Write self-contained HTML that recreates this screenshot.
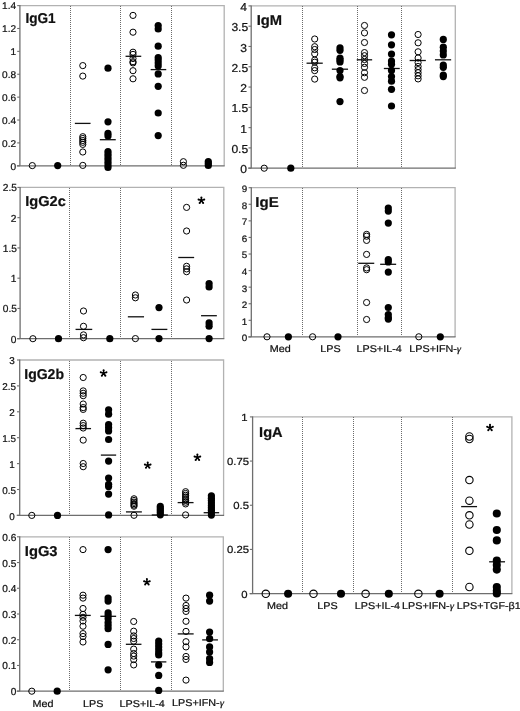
<!DOCTYPE html>
<html><head><meta charset="utf-8"><style>
html,body{margin:0;padding:0;background:#fff;}
body{width:520px;height:711px;overflow:hidden;}
svg{display:block;filter:grayscale(1);}
text{font-family:"Liberation Sans",sans-serif;fill:#111;text-rendering:geometricPrecision;stroke:#111;stroke-width:0.22px;}
</style></head><body>
<svg width="520" height="711" viewBox="0 0 520 711">
<rect width="520" height="711" fill="#fff"/>
<path d="M19.9 5.6H224.2V165.8" fill="none" stroke="#b2b2b2" stroke-width="1.3"/>
<path d="M70 6h1v1h-1zM70 8h1v1h-1zM70 10h1v1h-1zM70 12h1v1h-1zM70 14h1v1h-1zM70 16h1v1h-1zM70 18h1v1h-1zM70 20h1v1h-1zM70 22h1v1h-1zM70 24h1v1h-1zM70 26h1v1h-1zM70 28h1v1h-1zM70 30h1v1h-1zM70 32h1v1h-1zM70 34h1v1h-1zM70 36h1v1h-1zM70 38h1v1h-1zM70 40h1v1h-1zM70 42h1v1h-1zM70 44h1v1h-1zM70 46h1v1h-1zM70 48h1v1h-1zM70 50h1v1h-1zM70 52h1v1h-1zM70 54h1v1h-1zM70 56h1v1h-1zM70 58h1v1h-1zM70 60h1v1h-1zM70 62h1v1h-1zM70 64h1v1h-1zM70 66h1v1h-1zM70 68h1v1h-1zM70 70h1v1h-1zM70 72h1v1h-1zM70 74h1v1h-1zM70 76h1v1h-1zM70 78h1v1h-1zM70 80h1v1h-1zM70 82h1v1h-1zM70 84h1v1h-1zM70 86h1v1h-1zM70 88h1v1h-1zM70 90h1v1h-1zM70 92h1v1h-1zM70 94h1v1h-1zM70 96h1v1h-1zM70 98h1v1h-1zM70 100h1v1h-1zM70 102h1v1h-1zM70 104h1v1h-1zM70 106h1v1h-1zM70 108h1v1h-1zM70 110h1v1h-1zM70 112h1v1h-1zM70 114h1v1h-1zM70 116h1v1h-1zM70 118h1v1h-1zM70 120h1v1h-1zM70 122h1v1h-1zM70 124h1v1h-1zM70 126h1v1h-1zM70 128h1v1h-1zM70 130h1v1h-1zM70 132h1v1h-1zM70 134h1v1h-1zM70 136h1v1h-1zM70 138h1v1h-1zM70 140h1v1h-1zM70 142h1v1h-1zM70 144h1v1h-1zM70 146h1v1h-1zM70 148h1v1h-1zM70 150h1v1h-1zM70 152h1v1h-1zM70 154h1v1h-1zM70 156h1v1h-1zM70 158h1v1h-1zM70 160h1v1h-1zM70 162h1v1h-1zM70 164h1v1h-1z" fill="#6a6a6a" shape-rendering="crispEdges"/>
<path d="M120 6h1v1h-1zM120 8h1v1h-1zM120 10h1v1h-1zM120 12h1v1h-1zM120 14h1v1h-1zM120 16h1v1h-1zM120 18h1v1h-1zM120 20h1v1h-1zM120 22h1v1h-1zM120 24h1v1h-1zM120 26h1v1h-1zM120 28h1v1h-1zM120 30h1v1h-1zM120 32h1v1h-1zM120 34h1v1h-1zM120 36h1v1h-1zM120 38h1v1h-1zM120 40h1v1h-1zM120 42h1v1h-1zM120 44h1v1h-1zM120 46h1v1h-1zM120 48h1v1h-1zM120 50h1v1h-1zM120 52h1v1h-1zM120 54h1v1h-1zM120 56h1v1h-1zM120 58h1v1h-1zM120 60h1v1h-1zM120 62h1v1h-1zM120 64h1v1h-1zM120 66h1v1h-1zM120 68h1v1h-1zM120 70h1v1h-1zM120 72h1v1h-1zM120 74h1v1h-1zM120 76h1v1h-1zM120 78h1v1h-1zM120 80h1v1h-1zM120 82h1v1h-1zM120 84h1v1h-1zM120 86h1v1h-1zM120 88h1v1h-1zM120 90h1v1h-1zM120 92h1v1h-1zM120 94h1v1h-1zM120 96h1v1h-1zM120 98h1v1h-1zM120 100h1v1h-1zM120 102h1v1h-1zM120 104h1v1h-1zM120 106h1v1h-1zM120 108h1v1h-1zM120 110h1v1h-1zM120 112h1v1h-1zM120 114h1v1h-1zM120 116h1v1h-1zM120 118h1v1h-1zM120 120h1v1h-1zM120 122h1v1h-1zM120 124h1v1h-1zM120 126h1v1h-1zM120 128h1v1h-1zM120 130h1v1h-1zM120 132h1v1h-1zM120 134h1v1h-1zM120 136h1v1h-1zM120 138h1v1h-1zM120 140h1v1h-1zM120 142h1v1h-1zM120 144h1v1h-1zM120 146h1v1h-1zM120 148h1v1h-1zM120 150h1v1h-1zM120 152h1v1h-1zM120 154h1v1h-1zM120 156h1v1h-1zM120 158h1v1h-1zM120 160h1v1h-1zM120 162h1v1h-1zM120 164h1v1h-1z" fill="#6a6a6a" shape-rendering="crispEdges"/>
<path d="M171 6h1v1h-1zM171 8h1v1h-1zM171 10h1v1h-1zM171 12h1v1h-1zM171 14h1v1h-1zM171 16h1v1h-1zM171 18h1v1h-1zM171 20h1v1h-1zM171 22h1v1h-1zM171 24h1v1h-1zM171 26h1v1h-1zM171 28h1v1h-1zM171 30h1v1h-1zM171 32h1v1h-1zM171 34h1v1h-1zM171 36h1v1h-1zM171 38h1v1h-1zM171 40h1v1h-1zM171 42h1v1h-1zM171 44h1v1h-1zM171 46h1v1h-1zM171 48h1v1h-1zM171 50h1v1h-1zM171 52h1v1h-1zM171 54h1v1h-1zM171 56h1v1h-1zM171 58h1v1h-1zM171 60h1v1h-1zM171 62h1v1h-1zM171 64h1v1h-1zM171 66h1v1h-1zM171 68h1v1h-1zM171 70h1v1h-1zM171 72h1v1h-1zM171 74h1v1h-1zM171 76h1v1h-1zM171 78h1v1h-1zM171 80h1v1h-1zM171 82h1v1h-1zM171 84h1v1h-1zM171 86h1v1h-1zM171 88h1v1h-1zM171 90h1v1h-1zM171 92h1v1h-1zM171 94h1v1h-1zM171 96h1v1h-1zM171 98h1v1h-1zM171 100h1v1h-1zM171 102h1v1h-1zM171 104h1v1h-1zM171 106h1v1h-1zM171 108h1v1h-1zM171 110h1v1h-1zM171 112h1v1h-1zM171 114h1v1h-1zM171 116h1v1h-1zM171 118h1v1h-1zM171 120h1v1h-1zM171 122h1v1h-1zM171 124h1v1h-1zM171 126h1v1h-1zM171 128h1v1h-1zM171 130h1v1h-1zM171 132h1v1h-1zM171 134h1v1h-1zM171 136h1v1h-1zM171 138h1v1h-1zM171 140h1v1h-1zM171 142h1v1h-1zM171 144h1v1h-1zM171 146h1v1h-1zM171 148h1v1h-1zM171 150h1v1h-1zM171 152h1v1h-1zM171 154h1v1h-1zM171 156h1v1h-1zM171 158h1v1h-1zM171 160h1v1h-1zM171 162h1v1h-1zM171 164h1v1h-1z" fill="#6a6a6a" shape-rendering="crispEdges"/>
<line x1="16.9" y1="165.8" x2="224.7" y2="165.8" stroke="#6e6e6e" stroke-width="1.3"/>
<line x1="19.9" y1="5.1" x2="19.9" y2="165.8" stroke="#6e6e6e" stroke-width="1.3"/>
<line x1="17.2" y1="165.80" x2="19.9" y2="165.80" stroke="#6e6e6e" stroke-width="1.1"/>
<text transform="translate(16.10,169.67) scale(1.03,1)" font-size="9.8" text-anchor="end">0</text>
<line x1="17.2" y1="142.91" x2="19.9" y2="142.91" stroke="#6e6e6e" stroke-width="1.1"/>
<text transform="translate(16.10,146.79) scale(1.03,1)" font-size="9.8" text-anchor="end">0.2</text>
<line x1="17.2" y1="120.03" x2="19.9" y2="120.03" stroke="#6e6e6e" stroke-width="1.1"/>
<text transform="translate(16.10,123.90) scale(1.03,1)" font-size="9.8" text-anchor="end">0.4</text>
<line x1="17.2" y1="97.14" x2="19.9" y2="97.14" stroke="#6e6e6e" stroke-width="1.1"/>
<text transform="translate(16.10,101.01) scale(1.03,1)" font-size="9.8" text-anchor="end">0.6</text>
<line x1="17.2" y1="74.26" x2="19.9" y2="74.26" stroke="#6e6e6e" stroke-width="1.1"/>
<text transform="translate(16.10,78.13) scale(1.03,1)" font-size="9.8" text-anchor="end">0.8</text>
<line x1="17.2" y1="51.37" x2="19.9" y2="51.37" stroke="#6e6e6e" stroke-width="1.1"/>
<text transform="translate(16.10,55.24) scale(1.03,1)" font-size="9.8" text-anchor="end">1</text>
<line x1="17.2" y1="28.49" x2="19.9" y2="28.49" stroke="#6e6e6e" stroke-width="1.1"/>
<text transform="translate(16.10,32.36) scale(1.03,1)" font-size="9.8" text-anchor="end">1.2</text>
<line x1="17.2" y1="5.60" x2="19.9" y2="5.60" stroke="#6e6e6e" stroke-width="1.1"/>
<text transform="translate(16.10,9.47) scale(1.03,1)" font-size="9.8" text-anchor="end">1.4</text>
<text transform="translate(25.39,23.4) scale(0.95,1)" font-size="14.3" font-weight="bold">IgG1</text>
<line x1="74.85" y1="123.4" x2="90.55" y2="123.4" stroke="#111" stroke-width="1.3"/>
<line x1="99.85" y1="139.7" x2="115.75" y2="139.7" stroke="#111" stroke-width="1.3"/>
<line x1="125.55" y1="56.3" x2="141.25" y2="56.3" stroke="#111" stroke-width="1.3"/>
<line x1="150.65" y1="69.6" x2="166.25" y2="69.6" stroke="#111" stroke-width="1.3"/>
<circle cx="32.3" cy="165.6" r="3.1" fill="none" stroke="#000" stroke-width="1.0"/>
<circle cx="57.7" cy="165.6" r="3.6" fill="#000"/>
<circle cx="82.8" cy="65.6" r="3.1" fill="none" stroke="#000" stroke-width="1.0"/>
<circle cx="82.8" cy="76.1" r="3.1" fill="none" stroke="#000" stroke-width="1.0"/>
<circle cx="82.8" cy="136.7" r="3.1" fill="none" stroke="#000" stroke-width="1.0"/>
<circle cx="82.8" cy="138.5" r="3.1" fill="none" stroke="#000" stroke-width="1.0"/>
<circle cx="82.8" cy="140.5" r="3.1" fill="none" stroke="#000" stroke-width="1.0"/>
<circle cx="82.8" cy="142.3" r="3.1" fill="none" stroke="#000" stroke-width="1.0"/>
<circle cx="82.8" cy="144.4" r="3.1" fill="none" stroke="#000" stroke-width="1.0"/>
<circle cx="82.8" cy="152" r="3.1" fill="none" stroke="#000" stroke-width="1.0"/>
<circle cx="82.8" cy="165.4" r="3.1" fill="none" stroke="#000" stroke-width="1.0"/>
<circle cx="108" cy="68.2" r="3.6" fill="#000"/>
<circle cx="108" cy="121.8" r="3.6" fill="#000"/>
<circle cx="108" cy="133.4" r="3.6" fill="#000"/>
<circle cx="108" cy="135.9" r="3.6" fill="#000"/>
<circle cx="108" cy="151.5" r="3.6" fill="#000"/>
<circle cx="108" cy="154.2" r="3.6" fill="#000"/>
<circle cx="108" cy="156.9" r="3.6" fill="#000"/>
<circle cx="108" cy="159.6" r="3.6" fill="#000"/>
<circle cx="108" cy="162.3" r="3.6" fill="#000"/>
<circle cx="108" cy="165" r="3.6" fill="#000"/>
<circle cx="108" cy="167.5" r="3.6" fill="#000"/>
<circle cx="133" cy="15.4" r="3.1" fill="none" stroke="#000" stroke-width="1.0"/>
<circle cx="133" cy="32.2" r="3.1" fill="none" stroke="#000" stroke-width="1.0"/>
<circle cx="133" cy="52.2" r="3.1" fill="none" stroke="#000" stroke-width="1.0"/>
<circle cx="133" cy="54.4" r="3.1" fill="none" stroke="#000" stroke-width="1.0"/>
<circle cx="133" cy="58.5" r="3.1" fill="none" stroke="#000" stroke-width="1.0"/>
<circle cx="133" cy="61.7" r="3.1" fill="none" stroke="#000" stroke-width="1.0"/>
<circle cx="133" cy="62.9" r="3.1" fill="none" stroke="#000" stroke-width="1.0"/>
<circle cx="133" cy="70.7" r="3.1" fill="none" stroke="#000" stroke-width="1.0"/>
<circle cx="133" cy="78.8" r="3.1" fill="none" stroke="#000" stroke-width="1.0"/>
<circle cx="158.2" cy="25.5" r="3.6" fill="#000"/>
<circle cx="158.2" cy="29" r="3.6" fill="#000"/>
<circle cx="158.2" cy="46.2" r="3.6" fill="#000"/>
<circle cx="158.2" cy="57.5" r="3.6" fill="#000"/>
<circle cx="158.2" cy="60" r="3.6" fill="#000"/>
<circle cx="158.2" cy="63" r="3.6" fill="#000"/>
<circle cx="158.2" cy="66" r="3.6" fill="#000"/>
<circle cx="158.2" cy="73.9" r="3.6" fill="#000"/>
<circle cx="158.2" cy="86.3" r="3.6" fill="#000"/>
<circle cx="158.2" cy="113" r="3.6" fill="#000"/>
<circle cx="158.2" cy="135.6" r="3.6" fill="#000"/>
<circle cx="183.4" cy="161.7" r="3.1" fill="none" stroke="#000" stroke-width="1.0"/>
<circle cx="183.4" cy="165.3" r="3.1" fill="none" stroke="#000" stroke-width="1.0"/>
<circle cx="208.3" cy="161.5" r="3.6" fill="#000"/>
<circle cx="208.3" cy="163.5" r="3.6" fill="#000"/>
<circle cx="208.3" cy="165.5" r="3.6" fill="#000"/>
<path d="M20.1 187.4H223.8V338.7" fill="none" stroke="#b2b2b2" stroke-width="1.3"/>
<path d="M69 188h1v1h-1zM69 190h1v1h-1zM69 192h1v1h-1zM69 194h1v1h-1zM69 196h1v1h-1zM69 198h1v1h-1zM69 200h1v1h-1zM69 202h1v1h-1zM69 204h1v1h-1zM69 206h1v1h-1zM69 208h1v1h-1zM69 210h1v1h-1zM69 212h1v1h-1zM69 214h1v1h-1zM69 216h1v1h-1zM69 218h1v1h-1zM69 220h1v1h-1zM69 222h1v1h-1zM69 224h1v1h-1zM69 226h1v1h-1zM69 228h1v1h-1zM69 230h1v1h-1zM69 232h1v1h-1zM69 234h1v1h-1zM69 236h1v1h-1zM69 238h1v1h-1zM69 240h1v1h-1zM69 242h1v1h-1zM69 244h1v1h-1zM69 246h1v1h-1zM69 248h1v1h-1zM69 250h1v1h-1zM69 252h1v1h-1zM69 254h1v1h-1zM69 256h1v1h-1zM69 258h1v1h-1zM69 260h1v1h-1zM69 262h1v1h-1zM69 264h1v1h-1zM69 266h1v1h-1zM69 268h1v1h-1zM69 270h1v1h-1zM69 272h1v1h-1zM69 274h1v1h-1zM69 276h1v1h-1zM69 278h1v1h-1zM69 280h1v1h-1zM69 282h1v1h-1zM69 284h1v1h-1zM69 286h1v1h-1zM69 288h1v1h-1zM69 290h1v1h-1zM69 292h1v1h-1zM69 294h1v1h-1zM69 296h1v1h-1zM69 298h1v1h-1zM69 300h1v1h-1zM69 302h1v1h-1zM69 304h1v1h-1zM69 306h1v1h-1zM69 308h1v1h-1zM69 310h1v1h-1zM69 312h1v1h-1zM69 314h1v1h-1zM69 316h1v1h-1zM69 318h1v1h-1zM69 320h1v1h-1zM69 322h1v1h-1zM69 324h1v1h-1zM69 326h1v1h-1zM69 328h1v1h-1zM69 330h1v1h-1zM69 332h1v1h-1zM69 334h1v1h-1zM69 336h1v1h-1z" fill="#6a6a6a" shape-rendering="crispEdges"/>
<path d="M120 188h1v1h-1zM120 190h1v1h-1zM120 192h1v1h-1zM120 194h1v1h-1zM120 196h1v1h-1zM120 198h1v1h-1zM120 200h1v1h-1zM120 202h1v1h-1zM120 204h1v1h-1zM120 206h1v1h-1zM120 208h1v1h-1zM120 210h1v1h-1zM120 212h1v1h-1zM120 214h1v1h-1zM120 216h1v1h-1zM120 218h1v1h-1zM120 220h1v1h-1zM120 222h1v1h-1zM120 224h1v1h-1zM120 226h1v1h-1zM120 228h1v1h-1zM120 230h1v1h-1zM120 232h1v1h-1zM120 234h1v1h-1zM120 236h1v1h-1zM120 238h1v1h-1zM120 240h1v1h-1zM120 242h1v1h-1zM120 244h1v1h-1zM120 246h1v1h-1zM120 248h1v1h-1zM120 250h1v1h-1zM120 252h1v1h-1zM120 254h1v1h-1zM120 256h1v1h-1zM120 258h1v1h-1zM120 260h1v1h-1zM120 262h1v1h-1zM120 264h1v1h-1zM120 266h1v1h-1zM120 268h1v1h-1zM120 270h1v1h-1zM120 272h1v1h-1zM120 274h1v1h-1zM120 276h1v1h-1zM120 278h1v1h-1zM120 280h1v1h-1zM120 282h1v1h-1zM120 284h1v1h-1zM120 286h1v1h-1zM120 288h1v1h-1zM120 290h1v1h-1zM120 292h1v1h-1zM120 294h1v1h-1zM120 296h1v1h-1zM120 298h1v1h-1zM120 300h1v1h-1zM120 302h1v1h-1zM120 304h1v1h-1zM120 306h1v1h-1zM120 308h1v1h-1zM120 310h1v1h-1zM120 312h1v1h-1zM120 314h1v1h-1zM120 316h1v1h-1zM120 318h1v1h-1zM120 320h1v1h-1zM120 322h1v1h-1zM120 324h1v1h-1zM120 326h1v1h-1zM120 328h1v1h-1zM120 330h1v1h-1zM120 332h1v1h-1zM120 334h1v1h-1zM120 336h1v1h-1z" fill="#6a6a6a" shape-rendering="crispEdges"/>
<path d="M171 188h1v1h-1zM171 190h1v1h-1zM171 192h1v1h-1zM171 194h1v1h-1zM171 196h1v1h-1zM171 198h1v1h-1zM171 200h1v1h-1zM171 202h1v1h-1zM171 204h1v1h-1zM171 206h1v1h-1zM171 208h1v1h-1zM171 210h1v1h-1zM171 212h1v1h-1zM171 214h1v1h-1zM171 216h1v1h-1zM171 218h1v1h-1zM171 220h1v1h-1zM171 222h1v1h-1zM171 224h1v1h-1zM171 226h1v1h-1zM171 228h1v1h-1zM171 230h1v1h-1zM171 232h1v1h-1zM171 234h1v1h-1zM171 236h1v1h-1zM171 238h1v1h-1zM171 240h1v1h-1zM171 242h1v1h-1zM171 244h1v1h-1zM171 246h1v1h-1zM171 248h1v1h-1zM171 250h1v1h-1zM171 252h1v1h-1zM171 254h1v1h-1zM171 256h1v1h-1zM171 258h1v1h-1zM171 260h1v1h-1zM171 262h1v1h-1zM171 264h1v1h-1zM171 266h1v1h-1zM171 268h1v1h-1zM171 270h1v1h-1zM171 272h1v1h-1zM171 274h1v1h-1zM171 276h1v1h-1zM171 278h1v1h-1zM171 280h1v1h-1zM171 282h1v1h-1zM171 284h1v1h-1zM171 286h1v1h-1zM171 288h1v1h-1zM171 290h1v1h-1zM171 292h1v1h-1zM171 294h1v1h-1zM171 296h1v1h-1zM171 298h1v1h-1zM171 300h1v1h-1zM171 302h1v1h-1zM171 304h1v1h-1zM171 306h1v1h-1zM171 308h1v1h-1zM171 310h1v1h-1zM171 312h1v1h-1zM171 314h1v1h-1zM171 316h1v1h-1zM171 318h1v1h-1zM171 320h1v1h-1zM171 322h1v1h-1zM171 324h1v1h-1zM171 326h1v1h-1zM171 328h1v1h-1zM171 330h1v1h-1zM171 332h1v1h-1zM171 334h1v1h-1zM171 336h1v1h-1z" fill="#6a6a6a" shape-rendering="crispEdges"/>
<line x1="17.1" y1="338.7" x2="224.3" y2="338.7" stroke="#6e6e6e" stroke-width="1.3"/>
<line x1="20.1" y1="186.9" x2="20.1" y2="338.7" stroke="#6e6e6e" stroke-width="1.3"/>
<line x1="17.400000000000002" y1="338.70" x2="20.1" y2="338.70" stroke="#6e6e6e" stroke-width="1.1"/>
<text transform="translate(16.40,342.71) scale(1.0,1)" font-size="10.2" text-anchor="end">0</text>
<line x1="17.400000000000002" y1="308.44" x2="20.1" y2="308.44" stroke="#6e6e6e" stroke-width="1.1"/>
<text transform="translate(16.90,312.45) scale(1.0,1)" font-size="10.2" text-anchor="end">0.5</text>
<line x1="17.400000000000002" y1="278.18" x2="20.1" y2="278.18" stroke="#6e6e6e" stroke-width="1.1"/>
<text transform="translate(16.40,282.19) scale(1.0,1)" font-size="10.2" text-anchor="end">1</text>
<line x1="17.400000000000002" y1="247.92" x2="20.1" y2="247.92" stroke="#6e6e6e" stroke-width="1.1"/>
<text transform="translate(16.90,251.93) scale(1.0,1)" font-size="10.2" text-anchor="end">1.5</text>
<line x1="17.400000000000002" y1="217.66" x2="20.1" y2="217.66" stroke="#6e6e6e" stroke-width="1.1"/>
<text transform="translate(16.40,221.67) scale(1.0,1)" font-size="10.2" text-anchor="end">2</text>
<line x1="17.400000000000002" y1="187.40" x2="20.1" y2="187.40" stroke="#6e6e6e" stroke-width="1.1"/>
<text transform="translate(16.90,191.41) scale(1.0,1)" font-size="10.2" text-anchor="end">2.5</text>
<text transform="translate(25.32,205.7) scale(1.02,1)" font-size="14.3" font-weight="bold">IgG2c</text>
<line x1="75.55" y1="329.4" x2="92.25" y2="329.4" stroke="#111" stroke-width="1.3"/>
<line x1="127.85" y1="316.8" x2="144.05" y2="316.8" stroke="#111" stroke-width="1.3"/>
<line x1="151.45" y1="329.4" x2="167.35" y2="329.4" stroke="#111" stroke-width="1.3"/>
<line x1="178.25" y1="257.5" x2="194.15" y2="257.5" stroke="#111" stroke-width="1.3"/>
<line x1="201.05" y1="315.7" x2="216.85" y2="315.7" stroke="#111" stroke-width="1.3"/>
<circle cx="32.9" cy="338.7" r="3.1" fill="none" stroke="#000" stroke-width="1.0"/>
<circle cx="58.5" cy="338.7" r="3.6" fill="#000"/>
<circle cx="83.5" cy="311" r="3.1" fill="none" stroke="#000" stroke-width="1.0"/>
<circle cx="83.5" cy="326.3" r="3.1" fill="none" stroke="#000" stroke-width="1.0"/>
<circle cx="83.5" cy="334.9" r="3.1" fill="none" stroke="#000" stroke-width="1.0"/>
<circle cx="83.5" cy="337.7" r="3.1" fill="none" stroke="#000" stroke-width="1.0"/>
<circle cx="109.8" cy="338.7" r="3.6" fill="#000"/>
<circle cx="135.4" cy="295" r="3.1" fill="none" stroke="#000" stroke-width="1.0"/>
<circle cx="135.4" cy="297.8" r="3.1" fill="none" stroke="#000" stroke-width="1.0"/>
<circle cx="135.4" cy="338.6" r="3.1" fill="none" stroke="#000" stroke-width="1.0"/>
<circle cx="159" cy="307.6" r="3.6" fill="#000"/>
<circle cx="159" cy="338.6" r="3.6" fill="#000"/>
<circle cx="186.6" cy="207.4" r="3.1" fill="none" stroke="#000" stroke-width="1.0"/>
<circle cx="186.6" cy="231" r="3.1" fill="none" stroke="#000" stroke-width="1.0"/>
<circle cx="186.6" cy="266.3" r="3.1" fill="none" stroke="#000" stroke-width="1.0"/>
<circle cx="186.6" cy="268.9" r="3.1" fill="none" stroke="#000" stroke-width="1.0"/>
<circle cx="186.6" cy="271.7" r="3.1" fill="none" stroke="#000" stroke-width="1.0"/>
<circle cx="186.6" cy="300" r="3.1" fill="none" stroke="#000" stroke-width="1.0"/>
<circle cx="209.1" cy="283.7" r="3.6" fill="#000"/>
<circle cx="209.1" cy="287" r="3.6" fill="#000"/>
<circle cx="209.1" cy="322.9" r="3.6" fill="#000"/>
<circle cx="209.1" cy="326.2" r="3.6" fill="#000"/>
<circle cx="209.1" cy="338.6" r="3.6" fill="#000"/>
<g fill="#000"><path d="M201.40 200.50L201.40 197.50M201.40 200.50L204.25 199.57M201.40 200.50L203.16 202.93M201.40 200.50L199.64 202.93M201.40 200.50L198.55 199.57" stroke="#000" stroke-width="1.55" fill="none"/><circle cx="201.40" cy="197.50" r="1.0"/><circle cx="204.25" cy="199.57" r="1.0"/><circle cx="203.16" cy="202.93" r="1.0"/><circle cx="199.64" cy="202.93" r="1.0"/><circle cx="198.55" cy="199.57" r="1.0"/></g>
<path d="M19.7 360.0H223.6V515.4" fill="none" stroke="#b2b2b2" stroke-width="1.3"/>
<path d="M69 361h1v1h-1zM69 363h1v1h-1zM69 365h1v1h-1zM69 367h1v1h-1zM69 369h1v1h-1zM69 371h1v1h-1zM69 373h1v1h-1zM69 375h1v1h-1zM69 377h1v1h-1zM69 379h1v1h-1zM69 381h1v1h-1zM69 383h1v1h-1zM69 385h1v1h-1zM69 387h1v1h-1zM69 389h1v1h-1zM69 391h1v1h-1zM69 393h1v1h-1zM69 395h1v1h-1zM69 397h1v1h-1zM69 399h1v1h-1zM69 401h1v1h-1zM69 403h1v1h-1zM69 405h1v1h-1zM69 407h1v1h-1zM69 409h1v1h-1zM69 411h1v1h-1zM69 413h1v1h-1zM69 415h1v1h-1zM69 417h1v1h-1zM69 419h1v1h-1zM69 421h1v1h-1zM69 423h1v1h-1zM69 425h1v1h-1zM69 427h1v1h-1zM69 429h1v1h-1zM69 431h1v1h-1zM69 433h1v1h-1zM69 435h1v1h-1zM69 437h1v1h-1zM69 439h1v1h-1zM69 441h1v1h-1zM69 443h1v1h-1zM69 445h1v1h-1zM69 447h1v1h-1zM69 449h1v1h-1zM69 451h1v1h-1zM69 453h1v1h-1zM69 455h1v1h-1zM69 457h1v1h-1zM69 459h1v1h-1zM69 461h1v1h-1zM69 463h1v1h-1zM69 465h1v1h-1zM69 467h1v1h-1zM69 469h1v1h-1zM69 471h1v1h-1zM69 473h1v1h-1zM69 475h1v1h-1zM69 477h1v1h-1zM69 479h1v1h-1zM69 481h1v1h-1zM69 483h1v1h-1zM69 485h1v1h-1zM69 487h1v1h-1zM69 489h1v1h-1zM69 491h1v1h-1zM69 493h1v1h-1zM69 495h1v1h-1zM69 497h1v1h-1zM69 499h1v1h-1zM69 501h1v1h-1zM69 503h1v1h-1zM69 505h1v1h-1zM69 507h1v1h-1zM69 509h1v1h-1zM69 511h1v1h-1zM69 513h1v1h-1z" fill="#6a6a6a" shape-rendering="crispEdges"/>
<path d="M120 361h1v1h-1zM120 363h1v1h-1zM120 365h1v1h-1zM120 367h1v1h-1zM120 369h1v1h-1zM120 371h1v1h-1zM120 373h1v1h-1zM120 375h1v1h-1zM120 377h1v1h-1zM120 379h1v1h-1zM120 381h1v1h-1zM120 383h1v1h-1zM120 385h1v1h-1zM120 387h1v1h-1zM120 389h1v1h-1zM120 391h1v1h-1zM120 393h1v1h-1zM120 395h1v1h-1zM120 397h1v1h-1zM120 399h1v1h-1zM120 401h1v1h-1zM120 403h1v1h-1zM120 405h1v1h-1zM120 407h1v1h-1zM120 409h1v1h-1zM120 411h1v1h-1zM120 413h1v1h-1zM120 415h1v1h-1zM120 417h1v1h-1zM120 419h1v1h-1zM120 421h1v1h-1zM120 423h1v1h-1zM120 425h1v1h-1zM120 427h1v1h-1zM120 429h1v1h-1zM120 431h1v1h-1zM120 433h1v1h-1zM120 435h1v1h-1zM120 437h1v1h-1zM120 439h1v1h-1zM120 441h1v1h-1zM120 443h1v1h-1zM120 445h1v1h-1zM120 447h1v1h-1zM120 449h1v1h-1zM120 451h1v1h-1zM120 453h1v1h-1zM120 455h1v1h-1zM120 457h1v1h-1zM120 459h1v1h-1zM120 461h1v1h-1zM120 463h1v1h-1zM120 465h1v1h-1zM120 467h1v1h-1zM120 469h1v1h-1zM120 471h1v1h-1zM120 473h1v1h-1zM120 475h1v1h-1zM120 477h1v1h-1zM120 479h1v1h-1zM120 481h1v1h-1zM120 483h1v1h-1zM120 485h1v1h-1zM120 487h1v1h-1zM120 489h1v1h-1zM120 491h1v1h-1zM120 493h1v1h-1zM120 495h1v1h-1zM120 497h1v1h-1zM120 499h1v1h-1zM120 501h1v1h-1zM120 503h1v1h-1zM120 505h1v1h-1zM120 507h1v1h-1zM120 509h1v1h-1zM120 511h1v1h-1zM120 513h1v1h-1z" fill="#6a6a6a" shape-rendering="crispEdges"/>
<path d="M171 361h1v1h-1zM171 363h1v1h-1zM171 365h1v1h-1zM171 367h1v1h-1zM171 369h1v1h-1zM171 371h1v1h-1zM171 373h1v1h-1zM171 375h1v1h-1zM171 377h1v1h-1zM171 379h1v1h-1zM171 381h1v1h-1zM171 383h1v1h-1zM171 385h1v1h-1zM171 387h1v1h-1zM171 389h1v1h-1zM171 391h1v1h-1zM171 393h1v1h-1zM171 395h1v1h-1zM171 397h1v1h-1zM171 399h1v1h-1zM171 401h1v1h-1zM171 403h1v1h-1zM171 405h1v1h-1zM171 407h1v1h-1zM171 409h1v1h-1zM171 411h1v1h-1zM171 413h1v1h-1zM171 415h1v1h-1zM171 417h1v1h-1zM171 419h1v1h-1zM171 421h1v1h-1zM171 423h1v1h-1zM171 425h1v1h-1zM171 427h1v1h-1zM171 429h1v1h-1zM171 431h1v1h-1zM171 433h1v1h-1zM171 435h1v1h-1zM171 437h1v1h-1zM171 439h1v1h-1zM171 441h1v1h-1zM171 443h1v1h-1zM171 445h1v1h-1zM171 447h1v1h-1zM171 449h1v1h-1zM171 451h1v1h-1zM171 453h1v1h-1zM171 455h1v1h-1zM171 457h1v1h-1zM171 459h1v1h-1zM171 461h1v1h-1zM171 463h1v1h-1zM171 465h1v1h-1zM171 467h1v1h-1zM171 469h1v1h-1zM171 471h1v1h-1zM171 473h1v1h-1zM171 475h1v1h-1zM171 477h1v1h-1zM171 479h1v1h-1zM171 481h1v1h-1zM171 483h1v1h-1zM171 485h1v1h-1zM171 487h1v1h-1zM171 489h1v1h-1zM171 491h1v1h-1zM171 493h1v1h-1zM171 495h1v1h-1zM171 497h1v1h-1zM171 499h1v1h-1zM171 501h1v1h-1zM171 503h1v1h-1zM171 505h1v1h-1zM171 507h1v1h-1zM171 509h1v1h-1zM171 511h1v1h-1zM171 513h1v1h-1z" fill="#6a6a6a" shape-rendering="crispEdges"/>
<line x1="16.7" y1="515.4" x2="224.1" y2="515.4" stroke="#6e6e6e" stroke-width="1.3"/>
<line x1="19.7" y1="359.5" x2="19.7" y2="515.4" stroke="#6e6e6e" stroke-width="1.3"/>
<line x1="17.0" y1="515.40" x2="19.7" y2="515.40" stroke="#6e6e6e" stroke-width="1.1"/>
<text transform="translate(14.70,519.81) scale(1.0,1)" font-size="9.9" text-anchor="end">0</text>
<line x1="17.0" y1="489.50" x2="19.7" y2="489.50" stroke="#6e6e6e" stroke-width="1.1"/>
<text transform="translate(15.90,493.91) scale(1.0,1)" font-size="9.9" text-anchor="end">0.5</text>
<line x1="17.0" y1="463.60" x2="19.7" y2="463.60" stroke="#6e6e6e" stroke-width="1.1"/>
<text transform="translate(14.70,468.01) scale(1.0,1)" font-size="9.9" text-anchor="end">1</text>
<line x1="17.0" y1="437.70" x2="19.7" y2="437.70" stroke="#6e6e6e" stroke-width="1.1"/>
<text transform="translate(15.90,442.11) scale(1.0,1)" font-size="9.9" text-anchor="end">1.5</text>
<line x1="17.0" y1="411.80" x2="19.7" y2="411.80" stroke="#6e6e6e" stroke-width="1.1"/>
<text transform="translate(14.70,416.21) scale(1.0,1)" font-size="9.9" text-anchor="end">2</text>
<line x1="17.0" y1="385.90" x2="19.7" y2="385.90" stroke="#6e6e6e" stroke-width="1.1"/>
<text transform="translate(15.90,390.31) scale(1.0,1)" font-size="9.9" text-anchor="end">2.5</text>
<line x1="17.0" y1="360.00" x2="19.7" y2="360.00" stroke="#6e6e6e" stroke-width="1.1"/>
<text transform="translate(14.70,364.41) scale(1.0,1)" font-size="9.9" text-anchor="end">3</text>
<text transform="translate(24.26,378.9) scale(0.98,1)" font-size="14.3" font-weight="bold">IgG2b</text>
<line x1="75.45" y1="428.6" x2="91.05" y2="428.6" stroke="#111" stroke-width="1.3"/>
<line x1="100.85" y1="455.1" x2="116.15" y2="455.1" stroke="#111" stroke-width="1.3"/>
<line x1="125.95" y1="511.9" x2="141.85" y2="511.9" stroke="#111" stroke-width="1.3"/>
<line x1="151.75" y1="515.0" x2="167.85" y2="515.0" stroke="#111" stroke-width="1.3"/>
<line x1="177.65" y1="502.6" x2="193.55" y2="502.6" stroke="#111" stroke-width="1.3"/>
<line x1="203.65" y1="512.7" x2="219.15" y2="512.7" stroke="#111" stroke-width="1.3"/>
<circle cx="31.8" cy="515.4" r="3.1" fill="none" stroke="#000" stroke-width="1.0"/>
<circle cx="57.5" cy="515.4" r="3.6" fill="#000"/>
<circle cx="83.2" cy="377.5" r="3.1" fill="none" stroke="#000" stroke-width="1.0"/>
<circle cx="83.2" cy="390.9" r="3.1" fill="none" stroke="#000" stroke-width="1.0"/>
<circle cx="83.2" cy="393.3" r="3.1" fill="none" stroke="#000" stroke-width="1.0"/>
<circle cx="83.2" cy="395.7" r="3.1" fill="none" stroke="#000" stroke-width="1.0"/>
<circle cx="83.2" cy="404" r="3.1" fill="none" stroke="#000" stroke-width="1.0"/>
<circle cx="83.2" cy="407.6" r="3.1" fill="none" stroke="#000" stroke-width="1.0"/>
<circle cx="83.2" cy="409.4" r="3.1" fill="none" stroke="#000" stroke-width="1.0"/>
<circle cx="83.2" cy="423.2" r="3.1" fill="none" stroke="#000" stroke-width="1.0"/>
<circle cx="83.2" cy="425.6" r="3.1" fill="none" stroke="#000" stroke-width="1.0"/>
<circle cx="83.2" cy="428" r="3.1" fill="none" stroke="#000" stroke-width="1.0"/>
<circle cx="83.2" cy="440.1" r="3.1" fill="none" stroke="#000" stroke-width="1.0"/>
<circle cx="83.2" cy="463.5" r="3.1" fill="none" stroke="#000" stroke-width="1.0"/>
<circle cx="83.2" cy="466.7" r="3.1" fill="none" stroke="#000" stroke-width="1.0"/>
<circle cx="108.6" cy="409.8" r="3.6" fill="#000"/>
<circle cx="108.6" cy="414.2" r="3.6" fill="#000"/>
<circle cx="108.6" cy="424.6" r="3.6" fill="#000"/>
<circle cx="108.6" cy="427.7" r="3.6" fill="#000"/>
<circle cx="108.6" cy="430.9" r="3.6" fill="#000"/>
<circle cx="108.6" cy="439.5" r="3.6" fill="#000"/>
<circle cx="108.6" cy="461.1" r="3.6" fill="#000"/>
<circle cx="108.6" cy="478" r="3.6" fill="#000"/>
<circle cx="108.6" cy="484.3" r="3.6" fill="#000"/>
<circle cx="108.6" cy="486.4" r="3.6" fill="#000"/>
<circle cx="108.6" cy="494.1" r="3.6" fill="#000"/>
<circle cx="108.6" cy="514.9" r="3.6" fill="#000"/>
<circle cx="134" cy="498.8" r="3.1" fill="none" stroke="#000" stroke-width="1.0"/>
<circle cx="134" cy="500.5" r="3.1" fill="none" stroke="#000" stroke-width="1.0"/>
<circle cx="134" cy="502.2" r="3.1" fill="none" stroke="#000" stroke-width="1.0"/>
<circle cx="134" cy="503.6" r="3.1" fill="none" stroke="#000" stroke-width="1.0"/>
<circle cx="134" cy="505" r="3.1" fill="none" stroke="#000" stroke-width="1.0"/>
<circle cx="134" cy="506.2" r="3.1" fill="none" stroke="#000" stroke-width="1.0"/>
<circle cx="134" cy="515.3" r="3.1" fill="none" stroke="#000" stroke-width="1.0"/>
<circle cx="160.3" cy="506.4" r="3.6" fill="#000"/>
<circle cx="160.3" cy="508.4" r="3.6" fill="#000"/>
<circle cx="160.3" cy="510.4" r="3.6" fill="#000"/>
<circle cx="160.3" cy="512.5" r="3.6" fill="#000"/>
<circle cx="160.3" cy="514.8" r="3.6" fill="#000"/>
<circle cx="185.6" cy="491.7" r="3.1" fill="none" stroke="#000" stroke-width="1.0"/>
<circle cx="185.6" cy="493.5" r="3.1" fill="none" stroke="#000" stroke-width="1.0"/>
<circle cx="185.6" cy="495.3" r="3.1" fill="none" stroke="#000" stroke-width="1.0"/>
<circle cx="185.6" cy="497" r="3.1" fill="none" stroke="#000" stroke-width="1.0"/>
<circle cx="185.6" cy="498.8" r="3.1" fill="none" stroke="#000" stroke-width="1.0"/>
<circle cx="185.6" cy="500.5" r="3.1" fill="none" stroke="#000" stroke-width="1.0"/>
<circle cx="185.6" cy="502.2" r="3.1" fill="none" stroke="#000" stroke-width="1.0"/>
<circle cx="185.6" cy="503.9" r="3.1" fill="none" stroke="#000" stroke-width="1.0"/>
<circle cx="185.6" cy="514.9" r="3.1" fill="none" stroke="#000" stroke-width="1.0"/>
<circle cx="211.4" cy="495.8" r="3.6" fill="#000"/>
<circle cx="211.4" cy="498.2" r="3.6" fill="#000"/>
<circle cx="211.4" cy="500.6" r="3.6" fill="#000"/>
<circle cx="211.4" cy="503" r="3.6" fill="#000"/>
<circle cx="211.4" cy="505.4" r="3.6" fill="#000"/>
<circle cx="211.4" cy="507.8" r="3.6" fill="#000"/>
<circle cx="211.4" cy="510.2" r="3.6" fill="#000"/>
<circle cx="211.4" cy="512.6" r="3.6" fill="#000"/>
<circle cx="211.4" cy="515.1" r="3.6" fill="#000"/>
<g fill="#000"><path d="M103.60 373.30L103.60 370.30M103.60 373.30L106.45 372.37M103.60 373.30L105.36 375.73M103.60 373.30L101.84 375.73M103.60 373.30L100.75 372.37" stroke="#000" stroke-width="1.55" fill="none"/><circle cx="103.60" cy="370.30" r="1.0"/><circle cx="106.45" cy="372.37" r="1.0"/><circle cx="105.36" cy="375.73" r="1.0"/><circle cx="101.84" cy="375.73" r="1.0"/><circle cx="100.75" cy="372.37" r="1.0"/></g>
<g fill="#000"><path d="M147.70 465.40L147.70 462.40M147.70 465.40L150.55 464.47M147.70 465.40L149.46 467.83M147.70 465.40L145.94 467.83M147.70 465.40L144.85 464.47" stroke="#000" stroke-width="1.55" fill="none"/><circle cx="147.70" cy="462.40" r="1.0"/><circle cx="150.55" cy="464.47" r="1.0"/><circle cx="149.46" cy="467.83" r="1.0"/><circle cx="145.94" cy="467.83" r="1.0"/><circle cx="144.85" cy="464.47" r="1.0"/></g>
<g fill="#000"><path d="M197.40 457.50L197.40 454.50M197.40 457.50L200.25 456.57M197.40 457.50L199.16 459.93M197.40 457.50L195.64 459.93M197.40 457.50L194.55 456.57" stroke="#000" stroke-width="1.55" fill="none"/><circle cx="197.40" cy="454.50" r="1.0"/><circle cx="200.25" cy="456.57" r="1.0"/><circle cx="199.16" cy="459.93" r="1.0"/><circle cx="195.64" cy="459.93" r="1.0"/><circle cx="194.55" cy="456.57" r="1.0"/></g>
<path d="M19.7 536.8H223.3V691.2" fill="none" stroke="#b2b2b2" stroke-width="1.3"/>
<path d="M69 537h1v1h-1zM69 539h1v1h-1zM69 541h1v1h-1zM69 543h1v1h-1zM69 545h1v1h-1zM69 547h1v1h-1zM69 549h1v1h-1zM69 551h1v1h-1zM69 553h1v1h-1zM69 555h1v1h-1zM69 557h1v1h-1zM69 559h1v1h-1zM69 561h1v1h-1zM69 563h1v1h-1zM69 565h1v1h-1zM69 567h1v1h-1zM69 569h1v1h-1zM69 571h1v1h-1zM69 573h1v1h-1zM69 575h1v1h-1zM69 577h1v1h-1zM69 579h1v1h-1zM69 581h1v1h-1zM69 583h1v1h-1zM69 585h1v1h-1zM69 587h1v1h-1zM69 589h1v1h-1zM69 591h1v1h-1zM69 593h1v1h-1zM69 595h1v1h-1zM69 597h1v1h-1zM69 599h1v1h-1zM69 601h1v1h-1zM69 603h1v1h-1zM69 605h1v1h-1zM69 607h1v1h-1zM69 609h1v1h-1zM69 611h1v1h-1zM69 613h1v1h-1zM69 615h1v1h-1zM69 617h1v1h-1zM69 619h1v1h-1zM69 621h1v1h-1zM69 623h1v1h-1zM69 625h1v1h-1zM69 627h1v1h-1zM69 629h1v1h-1zM69 631h1v1h-1zM69 633h1v1h-1zM69 635h1v1h-1zM69 637h1v1h-1zM69 639h1v1h-1zM69 641h1v1h-1zM69 643h1v1h-1zM69 645h1v1h-1zM69 647h1v1h-1zM69 649h1v1h-1zM69 651h1v1h-1zM69 653h1v1h-1zM69 655h1v1h-1zM69 657h1v1h-1zM69 659h1v1h-1zM69 661h1v1h-1zM69 663h1v1h-1zM69 665h1v1h-1zM69 667h1v1h-1zM69 669h1v1h-1zM69 671h1v1h-1zM69 673h1v1h-1zM69 675h1v1h-1zM69 677h1v1h-1zM69 679h1v1h-1zM69 681h1v1h-1zM69 683h1v1h-1zM69 685h1v1h-1zM69 687h1v1h-1zM69 689h1v1h-1z" fill="#6a6a6a" shape-rendering="crispEdges"/>
<path d="M120 537h1v1h-1zM120 539h1v1h-1zM120 541h1v1h-1zM120 543h1v1h-1zM120 545h1v1h-1zM120 547h1v1h-1zM120 549h1v1h-1zM120 551h1v1h-1zM120 553h1v1h-1zM120 555h1v1h-1zM120 557h1v1h-1zM120 559h1v1h-1zM120 561h1v1h-1zM120 563h1v1h-1zM120 565h1v1h-1zM120 567h1v1h-1zM120 569h1v1h-1zM120 571h1v1h-1zM120 573h1v1h-1zM120 575h1v1h-1zM120 577h1v1h-1zM120 579h1v1h-1zM120 581h1v1h-1zM120 583h1v1h-1zM120 585h1v1h-1zM120 587h1v1h-1zM120 589h1v1h-1zM120 591h1v1h-1zM120 593h1v1h-1zM120 595h1v1h-1zM120 597h1v1h-1zM120 599h1v1h-1zM120 601h1v1h-1zM120 603h1v1h-1zM120 605h1v1h-1zM120 607h1v1h-1zM120 609h1v1h-1zM120 611h1v1h-1zM120 613h1v1h-1zM120 615h1v1h-1zM120 617h1v1h-1zM120 619h1v1h-1zM120 621h1v1h-1zM120 623h1v1h-1zM120 625h1v1h-1zM120 627h1v1h-1zM120 629h1v1h-1zM120 631h1v1h-1zM120 633h1v1h-1zM120 635h1v1h-1zM120 637h1v1h-1zM120 639h1v1h-1zM120 641h1v1h-1zM120 643h1v1h-1zM120 645h1v1h-1zM120 647h1v1h-1zM120 649h1v1h-1zM120 651h1v1h-1zM120 653h1v1h-1zM120 655h1v1h-1zM120 657h1v1h-1zM120 659h1v1h-1zM120 661h1v1h-1zM120 663h1v1h-1zM120 665h1v1h-1zM120 667h1v1h-1zM120 669h1v1h-1zM120 671h1v1h-1zM120 673h1v1h-1zM120 675h1v1h-1zM120 677h1v1h-1zM120 679h1v1h-1zM120 681h1v1h-1zM120 683h1v1h-1zM120 685h1v1h-1zM120 687h1v1h-1zM120 689h1v1h-1z" fill="#6a6a6a" shape-rendering="crispEdges"/>
<path d="M171 537h1v1h-1zM171 539h1v1h-1zM171 541h1v1h-1zM171 543h1v1h-1zM171 545h1v1h-1zM171 547h1v1h-1zM171 549h1v1h-1zM171 551h1v1h-1zM171 553h1v1h-1zM171 555h1v1h-1zM171 557h1v1h-1zM171 559h1v1h-1zM171 561h1v1h-1zM171 563h1v1h-1zM171 565h1v1h-1zM171 567h1v1h-1zM171 569h1v1h-1zM171 571h1v1h-1zM171 573h1v1h-1zM171 575h1v1h-1zM171 577h1v1h-1zM171 579h1v1h-1zM171 581h1v1h-1zM171 583h1v1h-1zM171 585h1v1h-1zM171 587h1v1h-1zM171 589h1v1h-1zM171 591h1v1h-1zM171 593h1v1h-1zM171 595h1v1h-1zM171 597h1v1h-1zM171 599h1v1h-1zM171 601h1v1h-1zM171 603h1v1h-1zM171 605h1v1h-1zM171 607h1v1h-1zM171 609h1v1h-1zM171 611h1v1h-1zM171 613h1v1h-1zM171 615h1v1h-1zM171 617h1v1h-1zM171 619h1v1h-1zM171 621h1v1h-1zM171 623h1v1h-1zM171 625h1v1h-1zM171 627h1v1h-1zM171 629h1v1h-1zM171 631h1v1h-1zM171 633h1v1h-1zM171 635h1v1h-1zM171 637h1v1h-1zM171 639h1v1h-1zM171 641h1v1h-1zM171 643h1v1h-1zM171 645h1v1h-1zM171 647h1v1h-1zM171 649h1v1h-1zM171 651h1v1h-1zM171 653h1v1h-1zM171 655h1v1h-1zM171 657h1v1h-1zM171 659h1v1h-1zM171 661h1v1h-1zM171 663h1v1h-1zM171 665h1v1h-1zM171 667h1v1h-1zM171 669h1v1h-1zM171 671h1v1h-1zM171 673h1v1h-1zM171 675h1v1h-1zM171 677h1v1h-1zM171 679h1v1h-1zM171 681h1v1h-1zM171 683h1v1h-1zM171 685h1v1h-1zM171 687h1v1h-1zM171 689h1v1h-1z" fill="#6a6a6a" shape-rendering="crispEdges"/>
<line x1="16.7" y1="691.2" x2="223.8" y2="691.2" stroke="#6e6e6e" stroke-width="1.3"/>
<line x1="19.7" y1="536.3" x2="19.7" y2="691.2" stroke="#6e6e6e" stroke-width="1.3"/>
<line x1="17.0" y1="691.20" x2="19.7" y2="691.20" stroke="#6e6e6e" stroke-width="1.1"/>
<text transform="translate(16.40,695.17) scale(1.0,1)" font-size="10.1" text-anchor="end">0</text>
<line x1="17.0" y1="665.47" x2="19.7" y2="665.47" stroke="#6e6e6e" stroke-width="1.1"/>
<text transform="translate(16.40,669.44) scale(1.0,1)" font-size="10.1" text-anchor="end">0.1</text>
<line x1="17.0" y1="639.73" x2="19.7" y2="639.73" stroke="#6e6e6e" stroke-width="1.1"/>
<text transform="translate(16.40,643.71) scale(1.0,1)" font-size="10.1" text-anchor="end">0.2</text>
<line x1="17.0" y1="614.00" x2="19.7" y2="614.00" stroke="#6e6e6e" stroke-width="1.1"/>
<text transform="translate(16.40,617.97) scale(1.0,1)" font-size="10.1" text-anchor="end">0.3</text>
<line x1="17.0" y1="588.27" x2="19.7" y2="588.27" stroke="#6e6e6e" stroke-width="1.1"/>
<text transform="translate(16.40,592.24) scale(1.0,1)" font-size="10.1" text-anchor="end">0.4</text>
<line x1="17.0" y1="562.53" x2="19.7" y2="562.53" stroke="#6e6e6e" stroke-width="1.1"/>
<text transform="translate(16.40,566.51) scale(1.0,1)" font-size="10.1" text-anchor="end">0.5</text>
<line x1="17.0" y1="536.80" x2="19.7" y2="536.80" stroke="#6e6e6e" stroke-width="1.1"/>
<text transform="translate(16.40,540.77) scale(1.0,1)" font-size="10.1" text-anchor="end">0.6</text>
<text transform="translate(24.81,556.0) scale(1.03,1)" font-size="14.3" font-weight="bold">IgG3</text>
<line x1="74.85" y1="615.4" x2="90.75" y2="615.4" stroke="#111" stroke-width="1.3"/>
<line x1="100.35" y1="616.3" x2="116.15" y2="616.3" stroke="#111" stroke-width="1.3"/>
<line x1="125.85" y1="644.3" x2="141.45" y2="644.3" stroke="#111" stroke-width="1.3"/>
<line x1="150.95" y1="661.9" x2="166.35" y2="661.9" stroke="#111" stroke-width="1.3"/>
<line x1="177.75" y1="633.9" x2="193.65" y2="633.9" stroke="#111" stroke-width="1.3"/>
<line x1="202.15" y1="639.9" x2="217.95" y2="639.9" stroke="#111" stroke-width="1.3"/>
<circle cx="31.8" cy="691.2" r="3.1" fill="none" stroke="#000" stroke-width="1.0"/>
<circle cx="57.2" cy="691.2" r="3.6" fill="#000"/>
<circle cx="83" cy="549.6" r="3.1" fill="none" stroke="#000" stroke-width="1.0"/>
<circle cx="83" cy="595.2" r="3.1" fill="none" stroke="#000" stroke-width="1.0"/>
<circle cx="83" cy="598.1" r="3.1" fill="none" stroke="#000" stroke-width="1.0"/>
<circle cx="83" cy="608.5" r="3.1" fill="none" stroke="#000" stroke-width="1.0"/>
<circle cx="83" cy="614.4" r="3.1" fill="none" stroke="#000" stroke-width="1.0"/>
<circle cx="83" cy="617.3" r="3.1" fill="none" stroke="#000" stroke-width="1.0"/>
<circle cx="83" cy="621" r="3.1" fill="none" stroke="#000" stroke-width="1.0"/>
<circle cx="83" cy="626.2" r="3.1" fill="none" stroke="#000" stroke-width="1.0"/>
<circle cx="83" cy="633.6" r="3.1" fill="none" stroke="#000" stroke-width="1.0"/>
<circle cx="83" cy="636.5" r="3.1" fill="none" stroke="#000" stroke-width="1.0"/>
<circle cx="83" cy="642" r="3.1" fill="none" stroke="#000" stroke-width="1.0"/>
<circle cx="108.1" cy="549.6" r="3.6" fill="#000"/>
<circle cx="108.1" cy="598.1" r="3.6" fill="#000"/>
<circle cx="108.1" cy="601.1" r="3.6" fill="#000"/>
<circle cx="108.1" cy="612.9" r="3.6" fill="#000"/>
<circle cx="108.1" cy="615.8" r="3.6" fill="#000"/>
<circle cx="108.1" cy="618.8" r="3.6" fill="#000"/>
<circle cx="108.1" cy="622.5" r="3.6" fill="#000"/>
<circle cx="108.1" cy="625.5" r="3.6" fill="#000"/>
<circle cx="108.1" cy="628.7" r="3.6" fill="#000"/>
<circle cx="108.1" cy="644.4" r="3.6" fill="#000"/>
<circle cx="108.1" cy="669.8" r="3.6" fill="#000"/>
<circle cx="133.7" cy="621.5" r="3.1" fill="none" stroke="#000" stroke-width="1.0"/>
<circle cx="133.7" cy="631.2" r="3.1" fill="none" stroke="#000" stroke-width="1.0"/>
<circle cx="133.7" cy="635.9" r="3.1" fill="none" stroke="#000" stroke-width="1.0"/>
<circle cx="133.7" cy="638.5" r="3.1" fill="none" stroke="#000" stroke-width="1.0"/>
<circle cx="133.7" cy="641.2" r="3.1" fill="none" stroke="#000" stroke-width="1.0"/>
<circle cx="133.7" cy="649.1" r="3.1" fill="none" stroke="#000" stroke-width="1.0"/>
<circle cx="133.7" cy="653.5" r="3.1" fill="none" stroke="#000" stroke-width="1.0"/>
<circle cx="133.7" cy="656.1" r="3.1" fill="none" stroke="#000" stroke-width="1.0"/>
<circle cx="133.7" cy="659.6" r="3.1" fill="none" stroke="#000" stroke-width="1.0"/>
<circle cx="133.7" cy="664.9" r="3.1" fill="none" stroke="#000" stroke-width="1.0"/>
<circle cx="158.7" cy="641" r="3.6" fill="#000"/>
<circle cx="158.7" cy="644" r="3.6" fill="#000"/>
<circle cx="158.7" cy="647" r="3.6" fill="#000"/>
<circle cx="158.7" cy="650" r="3.6" fill="#000"/>
<circle cx="158.7" cy="653" r="3.6" fill="#000"/>
<circle cx="158.7" cy="655" r="3.6" fill="#000"/>
<circle cx="158.7" cy="664.9" r="3.6" fill="#000"/>
<circle cx="158.7" cy="675.4" r="3.6" fill="#000"/>
<circle cx="158.7" cy="690.4" r="3.6" fill="#000"/>
<circle cx="186" cy="598.1" r="3.1" fill="none" stroke="#000" stroke-width="1.0"/>
<circle cx="186" cy="605.5" r="3.1" fill="none" stroke="#000" stroke-width="1.0"/>
<circle cx="186" cy="608.5" r="3.1" fill="none" stroke="#000" stroke-width="1.0"/>
<circle cx="186" cy="611.4" r="3.1" fill="none" stroke="#000" stroke-width="1.0"/>
<circle cx="186" cy="621.3" r="3.1" fill="none" stroke="#000" stroke-width="1.0"/>
<circle cx="186" cy="631.4" r="3.1" fill="none" stroke="#000" stroke-width="1.0"/>
<circle cx="186" cy="641.7" r="3.1" fill="none" stroke="#000" stroke-width="1.0"/>
<circle cx="186" cy="646.9" r="3.1" fill="none" stroke="#000" stroke-width="1.0"/>
<circle cx="186" cy="656.5" r="3.1" fill="none" stroke="#000" stroke-width="1.0"/>
<circle cx="186" cy="659.4" r="3.1" fill="none" stroke="#000" stroke-width="1.0"/>
<circle cx="186" cy="680.1" r="3.1" fill="none" stroke="#000" stroke-width="1.0"/>
<circle cx="209.6" cy="595.2" r="3.6" fill="#000"/>
<circle cx="209.6" cy="601.1" r="3.6" fill="#000"/>
<circle cx="209.6" cy="632.1" r="3.6" fill="#000"/>
<circle cx="209.6" cy="638.7" r="3.6" fill="#000"/>
<circle cx="209.6" cy="646.9" r="3.6" fill="#000"/>
<circle cx="209.6" cy="652" r="3.6" fill="#000"/>
<circle cx="209.6" cy="658.7" r="3.6" fill="#000"/>
<circle cx="209.6" cy="662.4" r="3.6" fill="#000"/>
<g fill="#000"><path d="M146.90 582.10L146.90 579.10M146.90 582.10L149.75 581.17M146.90 582.10L148.66 584.53M146.90 582.10L145.14 584.53M146.90 582.10L144.05 581.17" stroke="#000" stroke-width="1.55" fill="none"/><circle cx="146.90" cy="579.10" r="1.0"/><circle cx="149.75" cy="581.17" r="1.0"/><circle cx="148.66" cy="584.53" r="1.0"/><circle cx="145.14" cy="584.53" r="1.0"/><circle cx="144.05" cy="581.17" r="1.0"/></g>
<text transform="translate(43,706.9) scale(1.1,1)" font-size="9.8" text-anchor="middle">Med</text>
<text transform="translate(93.2,706.9) scale(1.1,1)" font-size="9.8" text-anchor="middle">LPS</text>
<text transform="translate(142.2,706.9) scale(1.1,1)" font-size="9.8" text-anchor="middle">LPS+IL-4</text>
<text transform="translate(198,706.4) scale(1.1,1)" font-size="9.8" text-anchor="middle">LPS+IFN-<tspan font-family="Liberation Serif" font-style="italic">γ</tspan></text>
<path d="M251.2 5.9H455.3V168.2" fill="none" stroke="#b2b2b2" stroke-width="1.3"/>
<path d="M302 6h1v1h-1zM302 8h1v1h-1zM302 10h1v1h-1zM302 12h1v1h-1zM302 14h1v1h-1zM302 16h1v1h-1zM302 18h1v1h-1zM302 20h1v1h-1zM302 22h1v1h-1zM302 24h1v1h-1zM302 26h1v1h-1zM302 28h1v1h-1zM302 30h1v1h-1zM302 32h1v1h-1zM302 34h1v1h-1zM302 36h1v1h-1zM302 38h1v1h-1zM302 40h1v1h-1zM302 42h1v1h-1zM302 44h1v1h-1zM302 46h1v1h-1zM302 48h1v1h-1zM302 50h1v1h-1zM302 52h1v1h-1zM302 54h1v1h-1zM302 56h1v1h-1zM302 58h1v1h-1zM302 60h1v1h-1zM302 62h1v1h-1zM302 64h1v1h-1zM302 66h1v1h-1zM302 68h1v1h-1zM302 70h1v1h-1zM302 72h1v1h-1zM302 74h1v1h-1zM302 76h1v1h-1zM302 78h1v1h-1zM302 80h1v1h-1zM302 82h1v1h-1zM302 84h1v1h-1zM302 86h1v1h-1zM302 88h1v1h-1zM302 90h1v1h-1zM302 92h1v1h-1zM302 94h1v1h-1zM302 96h1v1h-1zM302 98h1v1h-1zM302 100h1v1h-1zM302 102h1v1h-1zM302 104h1v1h-1zM302 106h1v1h-1zM302 108h1v1h-1zM302 110h1v1h-1zM302 112h1v1h-1zM302 114h1v1h-1zM302 116h1v1h-1zM302 118h1v1h-1zM302 120h1v1h-1zM302 122h1v1h-1zM302 124h1v1h-1zM302 126h1v1h-1zM302 128h1v1h-1zM302 130h1v1h-1zM302 132h1v1h-1zM302 134h1v1h-1zM302 136h1v1h-1zM302 138h1v1h-1zM302 140h1v1h-1zM302 142h1v1h-1zM302 144h1v1h-1zM302 146h1v1h-1zM302 148h1v1h-1zM302 150h1v1h-1zM302 152h1v1h-1zM302 154h1v1h-1zM302 156h1v1h-1zM302 158h1v1h-1zM302 160h1v1h-1zM302 162h1v1h-1zM302 164h1v1h-1zM302 166h1v1h-1z" fill="#6a6a6a" shape-rendering="crispEdges"/>
<path d="M357 6h1v1h-1zM357 8h1v1h-1zM357 10h1v1h-1zM357 12h1v1h-1zM357 14h1v1h-1zM357 16h1v1h-1zM357 18h1v1h-1zM357 20h1v1h-1zM357 22h1v1h-1zM357 24h1v1h-1zM357 26h1v1h-1zM357 28h1v1h-1zM357 30h1v1h-1zM357 32h1v1h-1zM357 34h1v1h-1zM357 36h1v1h-1zM357 38h1v1h-1zM357 40h1v1h-1zM357 42h1v1h-1zM357 44h1v1h-1zM357 46h1v1h-1zM357 48h1v1h-1zM357 50h1v1h-1zM357 52h1v1h-1zM357 54h1v1h-1zM357 56h1v1h-1zM357 58h1v1h-1zM357 60h1v1h-1zM357 62h1v1h-1zM357 64h1v1h-1zM357 66h1v1h-1zM357 68h1v1h-1zM357 70h1v1h-1zM357 72h1v1h-1zM357 74h1v1h-1zM357 76h1v1h-1zM357 78h1v1h-1zM357 80h1v1h-1zM357 82h1v1h-1zM357 84h1v1h-1zM357 86h1v1h-1zM357 88h1v1h-1zM357 90h1v1h-1zM357 92h1v1h-1zM357 94h1v1h-1zM357 96h1v1h-1zM357 98h1v1h-1zM357 100h1v1h-1zM357 102h1v1h-1zM357 104h1v1h-1zM357 106h1v1h-1zM357 108h1v1h-1zM357 110h1v1h-1zM357 112h1v1h-1zM357 114h1v1h-1zM357 116h1v1h-1zM357 118h1v1h-1zM357 120h1v1h-1zM357 122h1v1h-1zM357 124h1v1h-1zM357 126h1v1h-1zM357 128h1v1h-1zM357 130h1v1h-1zM357 132h1v1h-1zM357 134h1v1h-1zM357 136h1v1h-1zM357 138h1v1h-1zM357 140h1v1h-1zM357 142h1v1h-1zM357 144h1v1h-1zM357 146h1v1h-1zM357 148h1v1h-1zM357 150h1v1h-1zM357 152h1v1h-1zM357 154h1v1h-1zM357 156h1v1h-1zM357 158h1v1h-1zM357 160h1v1h-1zM357 162h1v1h-1zM357 164h1v1h-1zM357 166h1v1h-1z" fill="#6a6a6a" shape-rendering="crispEdges"/>
<path d="M401 6h1v1h-1zM401 8h1v1h-1zM401 10h1v1h-1zM401 12h1v1h-1zM401 14h1v1h-1zM401 16h1v1h-1zM401 18h1v1h-1zM401 20h1v1h-1zM401 22h1v1h-1zM401 24h1v1h-1zM401 26h1v1h-1zM401 28h1v1h-1zM401 30h1v1h-1zM401 32h1v1h-1zM401 34h1v1h-1zM401 36h1v1h-1zM401 38h1v1h-1zM401 40h1v1h-1zM401 42h1v1h-1zM401 44h1v1h-1zM401 46h1v1h-1zM401 48h1v1h-1zM401 50h1v1h-1zM401 52h1v1h-1zM401 54h1v1h-1zM401 56h1v1h-1zM401 58h1v1h-1zM401 60h1v1h-1zM401 62h1v1h-1zM401 64h1v1h-1zM401 66h1v1h-1zM401 68h1v1h-1zM401 70h1v1h-1zM401 72h1v1h-1zM401 74h1v1h-1zM401 76h1v1h-1zM401 78h1v1h-1zM401 80h1v1h-1zM401 82h1v1h-1zM401 84h1v1h-1zM401 86h1v1h-1zM401 88h1v1h-1zM401 90h1v1h-1zM401 92h1v1h-1zM401 94h1v1h-1zM401 96h1v1h-1zM401 98h1v1h-1zM401 100h1v1h-1zM401 102h1v1h-1zM401 104h1v1h-1zM401 106h1v1h-1zM401 108h1v1h-1zM401 110h1v1h-1zM401 112h1v1h-1zM401 114h1v1h-1zM401 116h1v1h-1zM401 118h1v1h-1zM401 120h1v1h-1zM401 122h1v1h-1zM401 124h1v1h-1zM401 126h1v1h-1zM401 128h1v1h-1zM401 130h1v1h-1zM401 132h1v1h-1zM401 134h1v1h-1zM401 136h1v1h-1zM401 138h1v1h-1zM401 140h1v1h-1zM401 142h1v1h-1zM401 144h1v1h-1zM401 146h1v1h-1zM401 148h1v1h-1zM401 150h1v1h-1zM401 152h1v1h-1zM401 154h1v1h-1zM401 156h1v1h-1zM401 158h1v1h-1zM401 160h1v1h-1zM401 162h1v1h-1zM401 164h1v1h-1zM401 166h1v1h-1z" fill="#6a6a6a" shape-rendering="crispEdges"/>
<line x1="248.2" y1="168.2" x2="455.8" y2="168.2" stroke="#6e6e6e" stroke-width="1.3"/>
<line x1="251.2" y1="5.4" x2="251.2" y2="168.2" stroke="#6e6e6e" stroke-width="1.3"/>
<line x1="248.5" y1="168.20" x2="251.2" y2="168.20" stroke="#6e6e6e" stroke-width="1.1"/>
<text transform="translate(246.90,173.36) scale(1.05,1)" font-size="11.5" text-anchor="end">0</text>
<line x1="248.5" y1="147.91" x2="251.2" y2="147.91" stroke="#6e6e6e" stroke-width="1.1"/>
<text transform="translate(248.20,153.07) scale(1.05,1)" font-size="11.5" text-anchor="end">0.5</text>
<line x1="248.5" y1="127.62" x2="251.2" y2="127.62" stroke="#6e6e6e" stroke-width="1.1"/>
<text transform="translate(246.90,132.78) scale(1.05,1)" font-size="11.5" text-anchor="end">1</text>
<line x1="248.5" y1="107.34" x2="251.2" y2="107.34" stroke="#6e6e6e" stroke-width="1.1"/>
<text transform="translate(248.20,112.49) scale(1.05,1)" font-size="11.5" text-anchor="end">1.5</text>
<line x1="248.5" y1="87.05" x2="251.2" y2="87.05" stroke="#6e6e6e" stroke-width="1.1"/>
<text transform="translate(246.90,92.21) scale(1.05,1)" font-size="11.5" text-anchor="end">2</text>
<line x1="248.5" y1="66.76" x2="251.2" y2="66.76" stroke="#6e6e6e" stroke-width="1.1"/>
<text transform="translate(248.20,71.92) scale(1.05,1)" font-size="11.5" text-anchor="end">2.5</text>
<line x1="248.5" y1="46.47" x2="251.2" y2="46.47" stroke="#6e6e6e" stroke-width="1.1"/>
<text transform="translate(246.90,51.63) scale(1.05,1)" font-size="11.5" text-anchor="end">3</text>
<line x1="248.5" y1="26.19" x2="251.2" y2="26.19" stroke="#6e6e6e" stroke-width="1.1"/>
<text transform="translate(248.20,31.34) scale(1.05,1)" font-size="11.5" text-anchor="end">3.5</text>
<line x1="248.5" y1="5.90" x2="251.2" y2="5.90" stroke="#6e6e6e" stroke-width="1.1"/>
<text transform="translate(246.90,11.06) scale(1.05,1)" font-size="11.5" text-anchor="end">4</text>
<text transform="translate(256.71,24.6) scale(1.03,1)" font-size="14.3" font-weight="bold">IgM</text>
<line x1="306.55" y1="63.2" x2="322.75" y2="63.2" stroke="#111" stroke-width="1.3"/>
<line x1="331.85" y1="69.2" x2="348.05" y2="69.2" stroke="#111" stroke-width="1.3"/>
<line x1="356.75" y1="59.8" x2="372.15" y2="59.8" stroke="#111" stroke-width="1.3"/>
<line x1="383.85" y1="68.5" x2="399.75" y2="68.5" stroke="#111" stroke-width="1.3"/>
<line x1="409.65" y1="60.5" x2="425.85" y2="60.5" stroke="#111" stroke-width="1.3"/>
<line x1="434.95" y1="59.8" x2="451.15" y2="59.8" stroke="#111" stroke-width="1.3"/>
<circle cx="264.2" cy="168.2" r="3.1" fill="none" stroke="#000" stroke-width="1.0"/>
<circle cx="290.8" cy="168.2" r="3.6" fill="#000"/>
<circle cx="314.7" cy="39" r="3.1" fill="none" stroke="#000" stroke-width="1.0"/>
<circle cx="314.7" cy="46.7" r="3.1" fill="none" stroke="#000" stroke-width="1.0"/>
<circle cx="314.7" cy="49.5" r="3.1" fill="none" stroke="#000" stroke-width="1.0"/>
<circle cx="314.7" cy="53.8" r="3.1" fill="none" stroke="#000" stroke-width="1.0"/>
<circle cx="314.7" cy="60.1" r="3.1" fill="none" stroke="#000" stroke-width="1.0"/>
<circle cx="314.7" cy="62.2" r="3.1" fill="none" stroke="#000" stroke-width="1.0"/>
<circle cx="314.7" cy="67.8" r="3.1" fill="none" stroke="#000" stroke-width="1.0"/>
<circle cx="314.7" cy="70.6" r="3.1" fill="none" stroke="#000" stroke-width="1.0"/>
<circle cx="314.7" cy="79.1" r="3.1" fill="none" stroke="#000" stroke-width="1.0"/>
<circle cx="340" cy="47.8" r="3.6" fill="#000"/>
<circle cx="340" cy="50.3" r="3.6" fill="#000"/>
<circle cx="340" cy="58.2" r="3.6" fill="#000"/>
<circle cx="340" cy="60" r="3.6" fill="#000"/>
<circle cx="340" cy="61.9" r="3.6" fill="#000"/>
<circle cx="340" cy="70.6" r="3.6" fill="#000"/>
<circle cx="340" cy="76.5" r="3.6" fill="#000"/>
<circle cx="340" cy="77.8" r="3.6" fill="#000"/>
<circle cx="340" cy="101.6" r="3.6" fill="#000"/>
<circle cx="364.5" cy="25.5" r="3.1" fill="none" stroke="#000" stroke-width="1.0"/>
<circle cx="364.5" cy="32.9" r="3.1" fill="none" stroke="#000" stroke-width="1.0"/>
<circle cx="364.5" cy="42.5" r="3.1" fill="none" stroke="#000" stroke-width="1.0"/>
<circle cx="364.5" cy="52.6" r="3.1" fill="none" stroke="#000" stroke-width="1.0"/>
<circle cx="364.5" cy="55.7" r="3.1" fill="none" stroke="#000" stroke-width="1.0"/>
<circle cx="364.5" cy="59.5" r="3.1" fill="none" stroke="#000" stroke-width="1.0"/>
<circle cx="364.5" cy="63.4" r="3.1" fill="none" stroke="#000" stroke-width="1.0"/>
<circle cx="364.5" cy="67.3" r="3.1" fill="none" stroke="#000" stroke-width="1.0"/>
<circle cx="364.5" cy="72.7" r="3.1" fill="none" stroke="#000" stroke-width="1.0"/>
<circle cx="364.5" cy="77.3" r="3.1" fill="none" stroke="#000" stroke-width="1.0"/>
<circle cx="364.5" cy="90.5" r="3.1" fill="none" stroke="#000" stroke-width="1.0"/>
<circle cx="391.5" cy="34.8" r="3.6" fill="#000"/>
<circle cx="391.5" cy="44.8" r="3.6" fill="#000"/>
<circle cx="391.5" cy="54.1" r="3.6" fill="#000"/>
<circle cx="391.5" cy="61.1" r="3.6" fill="#000"/>
<circle cx="391.5" cy="64.2" r="3.6" fill="#000"/>
<circle cx="391.5" cy="70.4" r="3.6" fill="#000"/>
<circle cx="391.5" cy="76.6" r="3.6" fill="#000"/>
<circle cx="391.5" cy="81.2" r="3.6" fill="#000"/>
<circle cx="391.5" cy="89.3" r="3.6" fill="#000"/>
<circle cx="391.5" cy="106" r="3.6" fill="#000"/>
<circle cx="418.1" cy="34.5" r="3.1" fill="none" stroke="#000" stroke-width="1.0"/>
<circle cx="418.1" cy="42.8" r="3.1" fill="none" stroke="#000" stroke-width="1.0"/>
<circle cx="418.1" cy="51.8" r="3.1" fill="none" stroke="#000" stroke-width="1.0"/>
<circle cx="418.1" cy="58" r="3.1" fill="none" stroke="#000" stroke-width="1.0"/>
<circle cx="418.1" cy="62.6" r="3.1" fill="none" stroke="#000" stroke-width="1.0"/>
<circle cx="418.1" cy="66.5" r="3.1" fill="none" stroke="#000" stroke-width="1.0"/>
<circle cx="418.1" cy="69.6" r="3.1" fill="none" stroke="#000" stroke-width="1.0"/>
<circle cx="418.1" cy="72.7" r="3.1" fill="none" stroke="#000" stroke-width="1.0"/>
<circle cx="418.1" cy="75.8" r="3.1" fill="none" stroke="#000" stroke-width="1.0"/>
<circle cx="418.1" cy="78.9" r="3.1" fill="none" stroke="#000" stroke-width="1.0"/>
<circle cx="443.3" cy="39.4" r="3.6" fill="#000"/>
<circle cx="443.3" cy="47.2" r="3.6" fill="#000"/>
<circle cx="443.3" cy="51" r="3.6" fill="#000"/>
<circle cx="443.3" cy="54.9" r="3.6" fill="#000"/>
<circle cx="443.3" cy="65" r="3.6" fill="#000"/>
<circle cx="443.3" cy="67.3" r="3.6" fill="#000"/>
<circle cx="443.3" cy="75" r="3.6" fill="#000"/>
<circle cx="443.3" cy="76.6" r="3.6" fill="#000"/>
<path d="M251.3 187.7H455.1V336.9" fill="none" stroke="#b2b2b2" stroke-width="1.3"/>
<path d="M302 188h1v1h-1zM302 190h1v1h-1zM302 192h1v1h-1zM302 194h1v1h-1zM302 196h1v1h-1zM302 198h1v1h-1zM302 200h1v1h-1zM302 202h1v1h-1zM302 204h1v1h-1zM302 206h1v1h-1zM302 208h1v1h-1zM302 210h1v1h-1zM302 212h1v1h-1zM302 214h1v1h-1zM302 216h1v1h-1zM302 218h1v1h-1zM302 220h1v1h-1zM302 222h1v1h-1zM302 224h1v1h-1zM302 226h1v1h-1zM302 228h1v1h-1zM302 230h1v1h-1zM302 232h1v1h-1zM302 234h1v1h-1zM302 236h1v1h-1zM302 238h1v1h-1zM302 240h1v1h-1zM302 242h1v1h-1zM302 244h1v1h-1zM302 246h1v1h-1zM302 248h1v1h-1zM302 250h1v1h-1zM302 252h1v1h-1zM302 254h1v1h-1zM302 256h1v1h-1zM302 258h1v1h-1zM302 260h1v1h-1zM302 262h1v1h-1zM302 264h1v1h-1zM302 266h1v1h-1zM302 268h1v1h-1zM302 270h1v1h-1zM302 272h1v1h-1zM302 274h1v1h-1zM302 276h1v1h-1zM302 278h1v1h-1zM302 280h1v1h-1zM302 282h1v1h-1zM302 284h1v1h-1zM302 286h1v1h-1zM302 288h1v1h-1zM302 290h1v1h-1zM302 292h1v1h-1zM302 294h1v1h-1zM302 296h1v1h-1zM302 298h1v1h-1zM302 300h1v1h-1zM302 302h1v1h-1zM302 304h1v1h-1zM302 306h1v1h-1zM302 308h1v1h-1zM302 310h1v1h-1zM302 312h1v1h-1zM302 314h1v1h-1zM302 316h1v1h-1zM302 318h1v1h-1zM302 320h1v1h-1zM302 322h1v1h-1zM302 324h1v1h-1zM302 326h1v1h-1zM302 328h1v1h-1zM302 330h1v1h-1zM302 332h1v1h-1zM302 334h1v1h-1z" fill="#6a6a6a" shape-rendering="crispEdges"/>
<path d="M357 188h1v1h-1zM357 190h1v1h-1zM357 192h1v1h-1zM357 194h1v1h-1zM357 196h1v1h-1zM357 198h1v1h-1zM357 200h1v1h-1zM357 202h1v1h-1zM357 204h1v1h-1zM357 206h1v1h-1zM357 208h1v1h-1zM357 210h1v1h-1zM357 212h1v1h-1zM357 214h1v1h-1zM357 216h1v1h-1zM357 218h1v1h-1zM357 220h1v1h-1zM357 222h1v1h-1zM357 224h1v1h-1zM357 226h1v1h-1zM357 228h1v1h-1zM357 230h1v1h-1zM357 232h1v1h-1zM357 234h1v1h-1zM357 236h1v1h-1zM357 238h1v1h-1zM357 240h1v1h-1zM357 242h1v1h-1zM357 244h1v1h-1zM357 246h1v1h-1zM357 248h1v1h-1zM357 250h1v1h-1zM357 252h1v1h-1zM357 254h1v1h-1zM357 256h1v1h-1zM357 258h1v1h-1zM357 260h1v1h-1zM357 262h1v1h-1zM357 264h1v1h-1zM357 266h1v1h-1zM357 268h1v1h-1zM357 270h1v1h-1zM357 272h1v1h-1zM357 274h1v1h-1zM357 276h1v1h-1zM357 278h1v1h-1zM357 280h1v1h-1zM357 282h1v1h-1zM357 284h1v1h-1zM357 286h1v1h-1zM357 288h1v1h-1zM357 290h1v1h-1zM357 292h1v1h-1zM357 294h1v1h-1zM357 296h1v1h-1zM357 298h1v1h-1zM357 300h1v1h-1zM357 302h1v1h-1zM357 304h1v1h-1zM357 306h1v1h-1zM357 308h1v1h-1zM357 310h1v1h-1zM357 312h1v1h-1zM357 314h1v1h-1zM357 316h1v1h-1zM357 318h1v1h-1zM357 320h1v1h-1zM357 322h1v1h-1zM357 324h1v1h-1zM357 326h1v1h-1zM357 328h1v1h-1zM357 330h1v1h-1zM357 332h1v1h-1zM357 334h1v1h-1z" fill="#6a6a6a" shape-rendering="crispEdges"/>
<path d="M401 188h1v1h-1zM401 190h1v1h-1zM401 192h1v1h-1zM401 194h1v1h-1zM401 196h1v1h-1zM401 198h1v1h-1zM401 200h1v1h-1zM401 202h1v1h-1zM401 204h1v1h-1zM401 206h1v1h-1zM401 208h1v1h-1zM401 210h1v1h-1zM401 212h1v1h-1zM401 214h1v1h-1zM401 216h1v1h-1zM401 218h1v1h-1zM401 220h1v1h-1zM401 222h1v1h-1zM401 224h1v1h-1zM401 226h1v1h-1zM401 228h1v1h-1zM401 230h1v1h-1zM401 232h1v1h-1zM401 234h1v1h-1zM401 236h1v1h-1zM401 238h1v1h-1zM401 240h1v1h-1zM401 242h1v1h-1zM401 244h1v1h-1zM401 246h1v1h-1zM401 248h1v1h-1zM401 250h1v1h-1zM401 252h1v1h-1zM401 254h1v1h-1zM401 256h1v1h-1zM401 258h1v1h-1zM401 260h1v1h-1zM401 262h1v1h-1zM401 264h1v1h-1zM401 266h1v1h-1zM401 268h1v1h-1zM401 270h1v1h-1zM401 272h1v1h-1zM401 274h1v1h-1zM401 276h1v1h-1zM401 278h1v1h-1zM401 280h1v1h-1zM401 282h1v1h-1zM401 284h1v1h-1zM401 286h1v1h-1zM401 288h1v1h-1zM401 290h1v1h-1zM401 292h1v1h-1zM401 294h1v1h-1zM401 296h1v1h-1zM401 298h1v1h-1zM401 300h1v1h-1zM401 302h1v1h-1zM401 304h1v1h-1zM401 306h1v1h-1zM401 308h1v1h-1zM401 310h1v1h-1zM401 312h1v1h-1zM401 314h1v1h-1zM401 316h1v1h-1zM401 318h1v1h-1zM401 320h1v1h-1zM401 322h1v1h-1zM401 324h1v1h-1zM401 326h1v1h-1zM401 328h1v1h-1zM401 330h1v1h-1zM401 332h1v1h-1zM401 334h1v1h-1z" fill="#6a6a6a" shape-rendering="crispEdges"/>
<line x1="248.3" y1="336.9" x2="455.6" y2="336.9" stroke="#6e6e6e" stroke-width="1.3"/>
<line x1="251.3" y1="187.2" x2="251.3" y2="336.9" stroke="#6e6e6e" stroke-width="1.3"/>
<line x1="248.60000000000002" y1="336.90" x2="251.3" y2="336.90" stroke="#6e6e6e" stroke-width="1.1"/>
<text transform="translate(247.20,341.33) scale(1.05,1)" font-size="9.4" text-anchor="end">0</text>
<line x1="248.60000000000002" y1="320.32" x2="251.3" y2="320.32" stroke="#6e6e6e" stroke-width="1.1"/>
<text transform="translate(247.20,324.76) scale(1.05,1)" font-size="9.4" text-anchor="end">1</text>
<line x1="248.60000000000002" y1="303.74" x2="251.3" y2="303.74" stroke="#6e6e6e" stroke-width="1.1"/>
<text transform="translate(247.20,308.18) scale(1.05,1)" font-size="9.4" text-anchor="end">2</text>
<line x1="248.60000000000002" y1="287.17" x2="251.3" y2="287.17" stroke="#6e6e6e" stroke-width="1.1"/>
<text transform="translate(247.20,291.60) scale(1.05,1)" font-size="9.4" text-anchor="end">3</text>
<line x1="248.60000000000002" y1="270.59" x2="251.3" y2="270.59" stroke="#6e6e6e" stroke-width="1.1"/>
<text transform="translate(247.20,275.02) scale(1.05,1)" font-size="9.4" text-anchor="end">4</text>
<line x1="248.60000000000002" y1="254.01" x2="251.3" y2="254.01" stroke="#6e6e6e" stroke-width="1.1"/>
<text transform="translate(247.20,258.44) scale(1.05,1)" font-size="9.4" text-anchor="end">5</text>
<line x1="248.60000000000002" y1="237.43" x2="251.3" y2="237.43" stroke="#6e6e6e" stroke-width="1.1"/>
<text transform="translate(247.20,241.87) scale(1.05,1)" font-size="9.4" text-anchor="end">6</text>
<line x1="248.60000000000002" y1="220.86" x2="251.3" y2="220.86" stroke="#6e6e6e" stroke-width="1.1"/>
<text transform="translate(247.20,225.29) scale(1.05,1)" font-size="9.4" text-anchor="end">7</text>
<line x1="248.60000000000002" y1="204.28" x2="251.3" y2="204.28" stroke="#6e6e6e" stroke-width="1.1"/>
<text transform="translate(247.20,208.71) scale(1.05,1)" font-size="9.4" text-anchor="end">8</text>
<line x1="248.60000000000002" y1="187.70" x2="251.3" y2="187.70" stroke="#6e6e6e" stroke-width="1.1"/>
<text transform="translate(247.20,192.13) scale(1.05,1)" font-size="9.4" text-anchor="end">9</text>
<text transform="translate(255.29,206.9) scale(1.05,1)" font-size="14.3" font-weight="bold">IgE</text>
<line x1="358.25" y1="263.3" x2="374.25" y2="263.3" stroke="#111" stroke-width="1.3"/>
<line x1="380.15" y1="264.3" x2="396.15" y2="264.3" stroke="#111" stroke-width="1.3"/>
<circle cx="267" cy="336.8" r="3.1" fill="none" stroke="#000" stroke-width="1.0"/>
<circle cx="288.4" cy="336.8" r="3.6" fill="#000"/>
<circle cx="312.6" cy="336.8" r="3.1" fill="none" stroke="#000" stroke-width="1.0"/>
<circle cx="338" cy="336.8" r="3.6" fill="#000"/>
<circle cx="366.6" cy="234.4" r="3.1" fill="none" stroke="#000" stroke-width="1.0"/>
<circle cx="366.6" cy="236.2" r="3.1" fill="none" stroke="#000" stroke-width="1.0"/>
<circle cx="366.6" cy="240.4" r="3.1" fill="none" stroke="#000" stroke-width="1.0"/>
<circle cx="366.6" cy="254.4" r="3.1" fill="none" stroke="#000" stroke-width="1.0"/>
<circle cx="366.6" cy="267.9" r="3.1" fill="none" stroke="#000" stroke-width="1.0"/>
<circle cx="366.6" cy="269.7" r="3.1" fill="none" stroke="#000" stroke-width="1.0"/>
<circle cx="366.6" cy="302.5" r="3.1" fill="none" stroke="#000" stroke-width="1.0"/>
<circle cx="366.6" cy="319.5" r="3.1" fill="none" stroke="#000" stroke-width="1.0"/>
<circle cx="388.3" cy="208.1" r="3.6" fill="#000"/>
<circle cx="388.3" cy="211.1" r="3.6" fill="#000"/>
<circle cx="388.3" cy="223.1" r="3.6" fill="#000"/>
<circle cx="388.3" cy="259.5" r="3.6" fill="#000"/>
<circle cx="388.3" cy="261.9" r="3.6" fill="#000"/>
<circle cx="388.3" cy="272.1" r="3.6" fill="#000"/>
<circle cx="388.3" cy="307.5" r="3.6" fill="#000"/>
<circle cx="388.3" cy="314.5" r="3.6" fill="#000"/>
<circle cx="388.3" cy="317.7" r="3.6" fill="#000"/>
<circle cx="388.3" cy="319.1" r="3.6" fill="#000"/>
<circle cx="418.8" cy="336.8" r="3.1" fill="none" stroke="#000" stroke-width="1.0"/>
<circle cx="440.3" cy="336.8" r="3.6" fill="#000"/>
<text transform="translate(280.2,352) scale(1.1,1)" font-size="9.8" text-anchor="middle">Med</text>
<text transform="translate(330.5,352) scale(1.1,1)" font-size="9.8" text-anchor="middle">LPS</text>
<text transform="translate(379.1,352) scale(1.1,1)" font-size="9.8" text-anchor="middle">LPS+IL-4</text>
<text transform="translate(435.2,352) scale(1.1,1)" font-size="9.8" text-anchor="middle">LPS+IFN-<tspan font-family="Liberation Serif" font-style="italic">γ</tspan></text>
<path d="M252.6 416.9H511.9V593.6" fill="none" stroke="#b2b2b2" stroke-width="1.3"/>
<path d="M302 417h1v1h-1zM302 419h1v1h-1zM302 421h1v1h-1zM302 423h1v1h-1zM302 425h1v1h-1zM302 427h1v1h-1zM302 429h1v1h-1zM302 431h1v1h-1zM302 433h1v1h-1zM302 435h1v1h-1zM302 437h1v1h-1zM302 439h1v1h-1zM302 441h1v1h-1zM302 443h1v1h-1zM302 445h1v1h-1zM302 447h1v1h-1zM302 449h1v1h-1zM302 451h1v1h-1zM302 453h1v1h-1zM302 455h1v1h-1zM302 457h1v1h-1zM302 459h1v1h-1zM302 461h1v1h-1zM302 463h1v1h-1zM302 465h1v1h-1zM302 467h1v1h-1zM302 469h1v1h-1zM302 471h1v1h-1zM302 473h1v1h-1zM302 475h1v1h-1zM302 477h1v1h-1zM302 479h1v1h-1zM302 481h1v1h-1zM302 483h1v1h-1zM302 485h1v1h-1zM302 487h1v1h-1zM302 489h1v1h-1zM302 491h1v1h-1zM302 493h1v1h-1zM302 495h1v1h-1zM302 497h1v1h-1zM302 499h1v1h-1zM302 501h1v1h-1zM302 503h1v1h-1zM302 505h1v1h-1zM302 507h1v1h-1zM302 509h1v1h-1zM302 511h1v1h-1zM302 513h1v1h-1zM302 515h1v1h-1zM302 517h1v1h-1zM302 519h1v1h-1zM302 521h1v1h-1zM302 523h1v1h-1zM302 525h1v1h-1zM302 527h1v1h-1zM302 529h1v1h-1zM302 531h1v1h-1zM302 533h1v1h-1zM302 535h1v1h-1zM302 537h1v1h-1zM302 539h1v1h-1zM302 541h1v1h-1zM302 543h1v1h-1zM302 545h1v1h-1zM302 547h1v1h-1zM302 549h1v1h-1zM302 551h1v1h-1zM302 553h1v1h-1zM302 555h1v1h-1zM302 557h1v1h-1zM302 559h1v1h-1zM302 561h1v1h-1zM302 563h1v1h-1zM302 565h1v1h-1zM302 567h1v1h-1zM302 569h1v1h-1zM302 571h1v1h-1zM302 573h1v1h-1zM302 575h1v1h-1zM302 577h1v1h-1zM302 579h1v1h-1zM302 581h1v1h-1zM302 583h1v1h-1zM302 585h1v1h-1zM302 587h1v1h-1zM302 589h1v1h-1zM302 591h1v1h-1z" fill="#6a6a6a" shape-rendering="crispEdges"/>
<path d="M353 417h1v1h-1zM353 419h1v1h-1zM353 421h1v1h-1zM353 423h1v1h-1zM353 425h1v1h-1zM353 427h1v1h-1zM353 429h1v1h-1zM353 431h1v1h-1zM353 433h1v1h-1zM353 435h1v1h-1zM353 437h1v1h-1zM353 439h1v1h-1zM353 441h1v1h-1zM353 443h1v1h-1zM353 445h1v1h-1zM353 447h1v1h-1zM353 449h1v1h-1zM353 451h1v1h-1zM353 453h1v1h-1zM353 455h1v1h-1zM353 457h1v1h-1zM353 459h1v1h-1zM353 461h1v1h-1zM353 463h1v1h-1zM353 465h1v1h-1zM353 467h1v1h-1zM353 469h1v1h-1zM353 471h1v1h-1zM353 473h1v1h-1zM353 475h1v1h-1zM353 477h1v1h-1zM353 479h1v1h-1zM353 481h1v1h-1zM353 483h1v1h-1zM353 485h1v1h-1zM353 487h1v1h-1zM353 489h1v1h-1zM353 491h1v1h-1zM353 493h1v1h-1zM353 495h1v1h-1zM353 497h1v1h-1zM353 499h1v1h-1zM353 501h1v1h-1zM353 503h1v1h-1zM353 505h1v1h-1zM353 507h1v1h-1zM353 509h1v1h-1zM353 511h1v1h-1zM353 513h1v1h-1zM353 515h1v1h-1zM353 517h1v1h-1zM353 519h1v1h-1zM353 521h1v1h-1zM353 523h1v1h-1zM353 525h1v1h-1zM353 527h1v1h-1zM353 529h1v1h-1zM353 531h1v1h-1zM353 533h1v1h-1zM353 535h1v1h-1zM353 537h1v1h-1zM353 539h1v1h-1zM353 541h1v1h-1zM353 543h1v1h-1zM353 545h1v1h-1zM353 547h1v1h-1zM353 549h1v1h-1zM353 551h1v1h-1zM353 553h1v1h-1zM353 555h1v1h-1zM353 557h1v1h-1zM353 559h1v1h-1zM353 561h1v1h-1zM353 563h1v1h-1zM353 565h1v1h-1zM353 567h1v1h-1zM353 569h1v1h-1zM353 571h1v1h-1zM353 573h1v1h-1zM353 575h1v1h-1zM353 577h1v1h-1zM353 579h1v1h-1zM353 581h1v1h-1zM353 583h1v1h-1zM353 585h1v1h-1zM353 587h1v1h-1zM353 589h1v1h-1zM353 591h1v1h-1z" fill="#6a6a6a" shape-rendering="crispEdges"/>
<path d="M401 417h1v1h-1zM401 419h1v1h-1zM401 421h1v1h-1zM401 423h1v1h-1zM401 425h1v1h-1zM401 427h1v1h-1zM401 429h1v1h-1zM401 431h1v1h-1zM401 433h1v1h-1zM401 435h1v1h-1zM401 437h1v1h-1zM401 439h1v1h-1zM401 441h1v1h-1zM401 443h1v1h-1zM401 445h1v1h-1zM401 447h1v1h-1zM401 449h1v1h-1zM401 451h1v1h-1zM401 453h1v1h-1zM401 455h1v1h-1zM401 457h1v1h-1zM401 459h1v1h-1zM401 461h1v1h-1zM401 463h1v1h-1zM401 465h1v1h-1zM401 467h1v1h-1zM401 469h1v1h-1zM401 471h1v1h-1zM401 473h1v1h-1zM401 475h1v1h-1zM401 477h1v1h-1zM401 479h1v1h-1zM401 481h1v1h-1zM401 483h1v1h-1zM401 485h1v1h-1zM401 487h1v1h-1zM401 489h1v1h-1zM401 491h1v1h-1zM401 493h1v1h-1zM401 495h1v1h-1zM401 497h1v1h-1zM401 499h1v1h-1zM401 501h1v1h-1zM401 503h1v1h-1zM401 505h1v1h-1zM401 507h1v1h-1zM401 509h1v1h-1zM401 511h1v1h-1zM401 513h1v1h-1zM401 515h1v1h-1zM401 517h1v1h-1zM401 519h1v1h-1zM401 521h1v1h-1zM401 523h1v1h-1zM401 525h1v1h-1zM401 527h1v1h-1zM401 529h1v1h-1zM401 531h1v1h-1zM401 533h1v1h-1zM401 535h1v1h-1zM401 537h1v1h-1zM401 539h1v1h-1zM401 541h1v1h-1zM401 543h1v1h-1zM401 545h1v1h-1zM401 547h1v1h-1zM401 549h1v1h-1zM401 551h1v1h-1zM401 553h1v1h-1zM401 555h1v1h-1zM401 557h1v1h-1zM401 559h1v1h-1zM401 561h1v1h-1zM401 563h1v1h-1zM401 565h1v1h-1zM401 567h1v1h-1zM401 569h1v1h-1zM401 571h1v1h-1zM401 573h1v1h-1zM401 575h1v1h-1zM401 577h1v1h-1zM401 579h1v1h-1zM401 581h1v1h-1zM401 583h1v1h-1zM401 585h1v1h-1zM401 587h1v1h-1zM401 589h1v1h-1zM401 591h1v1h-1z" fill="#6a6a6a" shape-rendering="crispEdges"/>
<path d="M452 417h1v1h-1zM452 419h1v1h-1zM452 421h1v1h-1zM452 423h1v1h-1zM452 425h1v1h-1zM452 427h1v1h-1zM452 429h1v1h-1zM452 431h1v1h-1zM452 433h1v1h-1zM452 435h1v1h-1zM452 437h1v1h-1zM452 439h1v1h-1zM452 441h1v1h-1zM452 443h1v1h-1zM452 445h1v1h-1zM452 447h1v1h-1zM452 449h1v1h-1zM452 451h1v1h-1zM452 453h1v1h-1zM452 455h1v1h-1zM452 457h1v1h-1zM452 459h1v1h-1zM452 461h1v1h-1zM452 463h1v1h-1zM452 465h1v1h-1zM452 467h1v1h-1zM452 469h1v1h-1zM452 471h1v1h-1zM452 473h1v1h-1zM452 475h1v1h-1zM452 477h1v1h-1zM452 479h1v1h-1zM452 481h1v1h-1zM452 483h1v1h-1zM452 485h1v1h-1zM452 487h1v1h-1zM452 489h1v1h-1zM452 491h1v1h-1zM452 493h1v1h-1zM452 495h1v1h-1zM452 497h1v1h-1zM452 499h1v1h-1zM452 501h1v1h-1zM452 503h1v1h-1zM452 505h1v1h-1zM452 507h1v1h-1zM452 509h1v1h-1zM452 511h1v1h-1zM452 513h1v1h-1zM452 515h1v1h-1zM452 517h1v1h-1zM452 519h1v1h-1zM452 521h1v1h-1zM452 523h1v1h-1zM452 525h1v1h-1zM452 527h1v1h-1zM452 529h1v1h-1zM452 531h1v1h-1zM452 533h1v1h-1zM452 535h1v1h-1zM452 537h1v1h-1zM452 539h1v1h-1zM452 541h1v1h-1zM452 543h1v1h-1zM452 545h1v1h-1zM452 547h1v1h-1zM452 549h1v1h-1zM452 551h1v1h-1zM452 553h1v1h-1zM452 555h1v1h-1zM452 557h1v1h-1zM452 559h1v1h-1zM452 561h1v1h-1zM452 563h1v1h-1zM452 565h1v1h-1zM452 567h1v1h-1zM452 569h1v1h-1zM452 571h1v1h-1zM452 573h1v1h-1zM452 575h1v1h-1zM452 577h1v1h-1zM452 579h1v1h-1zM452 581h1v1h-1zM452 583h1v1h-1zM452 585h1v1h-1zM452 587h1v1h-1zM452 589h1v1h-1zM452 591h1v1h-1z" fill="#6a6a6a" shape-rendering="crispEdges"/>
<line x1="249.6" y1="593.6" x2="512.4" y2="593.6" stroke="#6e6e6e" stroke-width="1.3"/>
<line x1="252.6" y1="416.4" x2="252.6" y2="593.6" stroke="#6e6e6e" stroke-width="1.3"/>
<line x1="249.9" y1="593.60" x2="252.6" y2="593.60" stroke="#6e6e6e" stroke-width="1.1"/>
<text transform="translate(247.50,597.64) scale(1.1,1)" font-size="10.3" text-anchor="end">0</text>
<line x1="249.9" y1="549.42" x2="252.6" y2="549.42" stroke="#6e6e6e" stroke-width="1.1"/>
<text transform="translate(249.00,553.47) scale(1.1,1)" font-size="10.3" text-anchor="end">0.25</text>
<line x1="249.9" y1="505.25" x2="252.6" y2="505.25" stroke="#6e6e6e" stroke-width="1.1"/>
<text transform="translate(249.00,509.29) scale(1.1,1)" font-size="10.3" text-anchor="end">0.5</text>
<line x1="249.9" y1="461.07" x2="252.6" y2="461.07" stroke="#6e6e6e" stroke-width="1.1"/>
<text transform="translate(249.00,465.12) scale(1.1,1)" font-size="10.3" text-anchor="end">0.75</text>
<line x1="249.9" y1="416.90" x2="252.6" y2="416.90" stroke="#6e6e6e" stroke-width="1.1"/>
<text transform="translate(247.50,420.94) scale(1.1,1)" font-size="10.3" text-anchor="end">1</text>
<text transform="translate(259.12,437) scale(1.02,1)" font-size="14.3" font-weight="bold">IgA</text>
<line x1="461.15" y1="506.6" x2="477.05" y2="506.6" stroke="#111" stroke-width="1.3"/>
<line x1="489.15" y1="561.8" x2="505.05" y2="561.8" stroke="#111" stroke-width="1.3"/>
<circle cx="265.8" cy="593.8" r="3.7" fill="none" stroke="#000" stroke-width="1.1"/>
<circle cx="288.1" cy="593.8" r="4.05" fill="#000"/>
<circle cx="313.5" cy="593.8" r="3.7" fill="none" stroke="#000" stroke-width="1.1"/>
<circle cx="341" cy="593.8" r="4.05" fill="#000"/>
<circle cx="365.6" cy="593.8" r="3.7" fill="none" stroke="#000" stroke-width="1.1"/>
<circle cx="388.8" cy="593.8" r="4.05" fill="#000"/>
<circle cx="418.4" cy="593.8" r="3.7" fill="none" stroke="#000" stroke-width="1.1"/>
<circle cx="439.6" cy="593.8" r="4.05" fill="#000"/>
<circle cx="469.4" cy="436.5" r="3.7" fill="none" stroke="#000" stroke-width="1.1"/>
<circle cx="469.4" cy="439" r="3.7" fill="none" stroke="#000" stroke-width="1.1"/>
<circle cx="469.4" cy="480.1" r="3.7" fill="none" stroke="#000" stroke-width="1.1"/>
<circle cx="469.4" cy="500.7" r="3.7" fill="none" stroke="#000" stroke-width="1.1"/>
<circle cx="469.4" cy="515.3" r="3.7" fill="none" stroke="#000" stroke-width="1.1"/>
<circle cx="469.4" cy="524.5" r="3.7" fill="none" stroke="#000" stroke-width="1.1"/>
<circle cx="469.4" cy="550.8" r="3.7" fill="none" stroke="#000" stroke-width="1.1"/>
<circle cx="469.4" cy="587" r="3.7" fill="none" stroke="#000" stroke-width="1.1"/>
<circle cx="496.8" cy="513.5" r="4.05" fill="#000"/>
<circle cx="496.8" cy="530" r="4.05" fill="#000"/>
<circle cx="496.8" cy="540.4" r="4.05" fill="#000"/>
<circle cx="496.8" cy="560.5" r="4.05" fill="#000"/>
<circle cx="496.8" cy="565.1" r="4.05" fill="#000"/>
<circle cx="496.8" cy="569.6" r="4.05" fill="#000"/>
<circle cx="496.8" cy="587" r="4.05" fill="#000"/>
<circle cx="496.8" cy="590.7" r="4.05" fill="#000"/>
<circle cx="496.8" cy="593.4" r="4.05" fill="#000"/>
<g fill="#000"><path d="M490.00 427.80L490.00 424.80M490.00 427.80L492.85 426.87M490.00 427.80L491.76 430.23M490.00 427.80L488.24 430.23M490.00 427.80L487.15 426.87" stroke="#000" stroke-width="1.55" fill="none"/><circle cx="490.00" cy="424.80" r="1.0"/><circle cx="492.85" cy="426.87" r="1.0"/><circle cx="491.76" cy="430.23" r="1.0"/><circle cx="488.24" cy="430.23" r="1.0"/><circle cx="487.15" cy="426.87" r="1.0"/></g>
<text transform="translate(277.6,609.2) scale(1.1,1)" font-size="9.8" text-anchor="middle">Med</text>
<text transform="translate(327.5,609.2) scale(1.1,1)" font-size="9.8" text-anchor="middle">LPS</text>
<text transform="translate(377.4,609.2) scale(1.1,1)" font-size="9.8" text-anchor="middle">LPS+IL-4</text>
<text transform="translate(428,609.2) scale(1.1,1)" font-size="9.8" text-anchor="middle">LPS+IFN-<tspan font-family="Liberation Serif" font-style="italic">γ</tspan></text>
<text transform="translate(488.8,609.2) scale(1.1,1)" font-size="9.8" text-anchor="middle">LPS+TGF-β1</text>
</svg>
</body></html>
